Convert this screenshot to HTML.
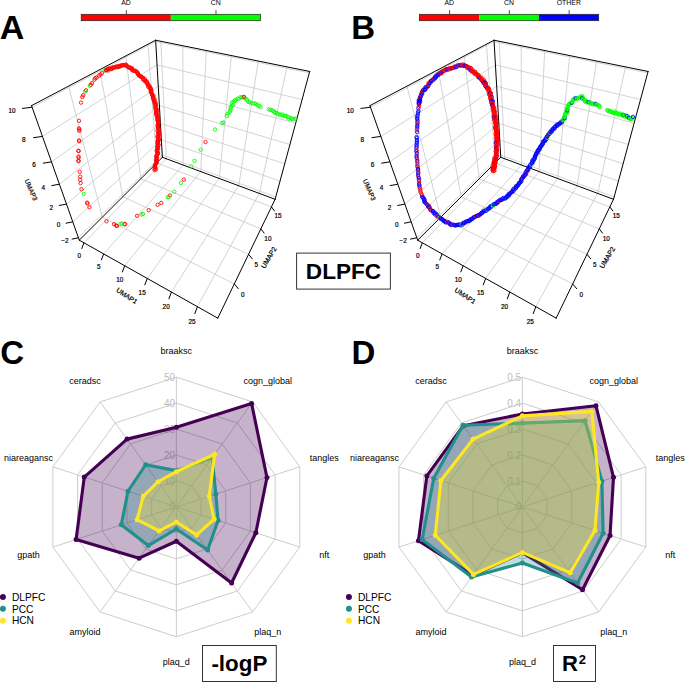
<!DOCTYPE html>
<html><head><meta charset="utf-8"><style>
html,body{margin:0;padding:0;background:#fff;}
svg{display:block;font-family:"Liberation Sans",sans-serif;}
</style></head><body>
<svg width="685" height="682" viewBox="0 0 685 682">
<rect width="685" height="682" fill="#fff"/>
<g font-family="Liberation Sans, sans-serif" fill="#000">
<g>
<line x1="102.28" y1="217.22" x2="68.57" y2="86.12" stroke="#c4c4c4" stroke-width="0.75"/>
<line x1="102.28" y1="217.22" x2="234.29" y2="283.91" stroke="#c4c4c4" stroke-width="0.75"/>
<line x1="122.79" y1="196.76" x2="99.78" y2="69.67" stroke="#c4c4c4" stroke-width="0.75"/>
<line x1="122.79" y1="196.76" x2="248.59" y2="254.27" stroke="#c4c4c4" stroke-width="0.75"/>
<line x1="140.8" y1="178.79" x2="125.88" y2="55.91" stroke="#c4c4c4" stroke-width="0.75"/>
<line x1="140.8" y1="178.79" x2="260.83" y2="228.89" stroke="#c4c4c4" stroke-width="0.75"/>
<line x1="156.74" y1="162.88" x2="148.03" y2="44.23" stroke="#c4c4c4" stroke-width="0.75"/>
<line x1="156.74" y1="162.88" x2="271.43" y2="206.92" stroke="#c4c4c4" stroke-width="0.75"/>
<line x1="78.44" y1="237.79" x2="162.23" y2="154.99" stroke="#c4c4c4" stroke-width="0.75"/>
<line x1="162.23" y1="154.99" x2="275.75" y2="196.92" stroke="#c4c4c4" stroke-width="0.75"/>
<line x1="72.78" y1="221.86" x2="161.35" y2="139.84" stroke="#c4c4c4" stroke-width="0.75"/>
<line x1="161.35" y1="139.84" x2="280.04" y2="181.08" stroke="#c4c4c4" stroke-width="0.75"/>
<line x1="66.48" y1="204.12" x2="160.41" y2="123.43" stroke="#c4c4c4" stroke-width="0.75"/>
<line x1="160.41" y1="123.43" x2="284.74" y2="163.7" stroke="#c4c4c4" stroke-width="0.75"/>
<line x1="59.43" y1="184.26" x2="159.38" y2="105.6" stroke="#c4c4c4" stroke-width="0.75"/>
<line x1="159.38" y1="105.6" x2="289.94" y2="144.51" stroke="#c4c4c4" stroke-width="0.75"/>
<line x1="51.48" y1="161.86" x2="158.27" y2="86.16" stroke="#c4c4c4" stroke-width="0.75"/>
<line x1="158.27" y1="86.16" x2="295.69" y2="123.24" stroke="#c4c4c4" stroke-width="0.75"/>
<line x1="42.45" y1="136.41" x2="157.04" y2="64.87" stroke="#c4c4c4" stroke-width="0.75"/>
<line x1="157.04" y1="64.87" x2="302.11" y2="99.52" stroke="#c4c4c4" stroke-width="0.75"/>
<line x1="32.1" y1="107.24" x2="155.7" y2="41.47" stroke="#c4c4c4" stroke-width="0.75"/>
<line x1="155.7" y1="41.47" x2="309.32" y2="72.9" stroke="#c4c4c4" stroke-width="0.75"/>
<line x1="166.37" y1="158.78" x2="160.84" y2="41.28" stroke="#c4c4c4" stroke-width="0.75"/>
<line x1="83.96" y1="242.8" x2="166.37" y2="158.78" stroke="#c4c4c4" stroke-width="0.75"/>
<line x1="183.14" y1="165.03" x2="182.83" y2="45.74" stroke="#c4c4c4" stroke-width="0.75"/>
<line x1="103.68" y1="253.9" x2="183.14" y2="165.03" stroke="#c4c4c4" stroke-width="0.75"/>
<line x1="200.75" y1="171.59" x2="206.28" y2="50.49" stroke="#c4c4c4" stroke-width="0.75"/>
<line x1="124.74" y1="265.76" x2="200.75" y2="171.59" stroke="#c4c4c4" stroke-width="0.75"/>
<line x1="219.26" y1="178.48" x2="231.36" y2="55.58" stroke="#c4c4c4" stroke-width="0.75"/>
<line x1="147.27" y1="278.44" x2="219.26" y2="178.48" stroke="#c4c4c4" stroke-width="0.75"/>
<line x1="238.75" y1="185.75" x2="258.23" y2="61.03" stroke="#c4c4c4" stroke-width="0.75"/>
<line x1="171.43" y1="292.04" x2="238.75" y2="185.75" stroke="#c4c4c4" stroke-width="0.75"/>
<line x1="259.29" y1="193.4" x2="287.1" y2="66.88" stroke="#c4c4c4" stroke-width="0.75"/>
<line x1="197.42" y1="306.67" x2="259.29" y2="193.4" stroke="#c4c4c4" stroke-width="0.75"/>
<line x1="31.53" y1="105.65" x2="155.62" y2="40.22" stroke="#000" stroke-width="1.0" stroke-linecap="round"/>
<line x1="155.62" y1="40.22" x2="309.71" y2="71.47" stroke="#000" stroke-width="1.0" stroke-linecap="round"/>
<line x1="31.53" y1="105.65" x2="79.28" y2="240.17" stroke="#000" stroke-width="1.0" stroke-linecap="round"/>
<line x1="155.62" y1="40.22" x2="162.36" y2="157.28" stroke="#000" stroke-width="1.0" stroke-linecap="round"/>
<line x1="309.71" y1="71.47" x2="275.11" y2="199.3" stroke="#000" stroke-width="1.0" stroke-linecap="round"/>
<line x1="79.28" y1="240.17" x2="162.36" y2="157.28" stroke="#000" stroke-width="1.0" stroke-linecap="round"/>
<line x1="162.36" y1="157.28" x2="275.11" y2="199.3" stroke="#000" stroke-width="1.0" stroke-linecap="round"/>
<line x1="79.28" y1="240.17" x2="217.78" y2="318.14" stroke="#000" stroke-width="1.0" stroke-linecap="round"/>
<line x1="217.78" y1="318.14" x2="275.11" y2="199.3" stroke="#000" stroke-width="1.0" stroke-linecap="round"/>
<line x1="78.44" y1="237.79" x2="71.68" y2="239.19" stroke="#000" stroke-width="1.0"/>
<text x="64.86" y="240.91" font-size="6.4" text-anchor="middle" dominant-baseline="central" stroke="#000" stroke-width="0.2">&#8722;2</text>
<line x1="72.78" y1="221.86" x2="65.63" y2="223.26" stroke="#000" stroke-width="1.0"/>
<text x="58.42" y="224.98" font-size="6.4" text-anchor="middle" dominant-baseline="central" stroke="#000" stroke-width="0.2">0</text>
<line x1="66.48" y1="204.12" x2="58.9" y2="205.53" stroke="#000" stroke-width="1.0"/>
<text x="51.25" y="207.24" font-size="6.4" text-anchor="middle" dominant-baseline="central" stroke="#000" stroke-width="0.2">2</text>
<line x1="59.43" y1="184.26" x2="51.36" y2="185.65" stroke="#000" stroke-width="1.0"/>
<text x="43.21" y="187.35" font-size="6.4" text-anchor="middle" dominant-baseline="central" stroke="#000" stroke-width="0.2">4</text>
<line x1="51.48" y1="161.86" x2="42.85" y2="163.22" stroke="#000" stroke-width="1.0"/>
<text x="34.13" y="164.9" font-size="6.4" text-anchor="middle" dominant-baseline="central" stroke="#000" stroke-width="0.2">6</text>
<line x1="42.45" y1="136.41" x2="33.18" y2="137.73" stroke="#000" stroke-width="1.0"/>
<text x="23.8" y="139.36" font-size="6.4" text-anchor="middle" dominant-baseline="central" stroke="#000" stroke-width="0.2">8</text>
<line x1="32.1" y1="107.24" x2="22.08" y2="108.48" stroke="#000" stroke-width="1.0"/>
<text x="11.94" y="110.04" font-size="6.4" text-anchor="middle" dominant-baseline="central" stroke="#000" stroke-width="0.2">10</text>
<line x1="83.96" y1="242.8" x2="81.63" y2="248.92" stroke="#000" stroke-width="1.0"/>
<text x="79.29" y="255.34" font-size="6.4" text-anchor="middle" dominant-baseline="central" stroke="#000" stroke-width="0.2">0</text>
<line x1="103.68" y1="253.9" x2="101.28" y2="260.22" stroke="#000" stroke-width="1.0"/>
<text x="98.87" y="266.85" font-size="6.4" text-anchor="middle" dominant-baseline="central" stroke="#000" stroke-width="0.2">5</text>
<line x1="124.74" y1="265.76" x2="122.26" y2="272.29" stroke="#000" stroke-width="1.0"/>
<text x="119.78" y="279.14" font-size="6.4" text-anchor="middle" dominant-baseline="central" stroke="#000" stroke-width="0.2">10</text>
<line x1="147.27" y1="278.44" x2="144.71" y2="285.21" stroke="#000" stroke-width="1.0"/>
<text x="142.16" y="292.29" font-size="6.4" text-anchor="middle" dominant-baseline="central" stroke="#000" stroke-width="0.2">15</text>
<line x1="171.43" y1="292.04" x2="168.8" y2="299.07" stroke="#000" stroke-width="1.0"/>
<text x="166.16" y="306.39" font-size="6.4" text-anchor="middle" dominant-baseline="central" stroke="#000" stroke-width="0.2">20</text>
<line x1="197.42" y1="306.67" x2="194.69" y2="313.96" stroke="#000" stroke-width="1.0"/>
<text x="191.96" y="321.56" font-size="6.4" text-anchor="middle" dominant-baseline="central" stroke="#000" stroke-width="0.2">25</text>
<line x1="234.29" y1="283.91" x2="238.55" y2="288.98" stroke="#000" stroke-width="1.0"/>
<text x="242.76" y="294.31" font-size="6.4" text-anchor="middle" dominant-baseline="central" stroke="#000" stroke-width="0.2">0</text>
<line x1="248.59" y1="254.27" x2="252.46" y2="259.07" stroke="#000" stroke-width="1.0"/>
<text x="256.3" y="264.13" font-size="6.4" text-anchor="middle" dominant-baseline="central" stroke="#000" stroke-width="0.2">5</text>
<line x1="260.83" y1="228.89" x2="264.38" y2="233.44" stroke="#000" stroke-width="1.0"/>
<text x="267.9" y="238.25" font-size="6.4" text-anchor="middle" dominant-baseline="central" stroke="#000" stroke-width="0.2">10</text>
<line x1="271.43" y1="206.92" x2="274.7" y2="211.24" stroke="#000" stroke-width="1.0"/>
<text x="277.95" y="215.83" font-size="6.4" text-anchor="middle" dominant-baseline="central" stroke="#000" stroke-width="0.2">15</text>
<text transform="translate(31.2,189.8) rotate(67)" font-size="6.6" text-anchor="middle" dominant-baseline="central" stroke="#000" stroke-width="0.2">UMAP3</text>
<text transform="translate(126.9,295.7) rotate(34)" font-size="6.9" text-anchor="middle" dominant-baseline="central" stroke="#000" stroke-width="0.2">UMAP1</text>
<text transform="translate(268.7,257.5) rotate(-59)" font-size="6.9" text-anchor="middle" dominant-baseline="central" stroke="#000" stroke-width="0.2">UMAP2</text>
<circle cx="81" cy="102.6" r="1.7" fill="none" stroke="#ff0000" stroke-width="0.85"/>
<circle cx="82.3" cy="97" r="1.7" fill="none" stroke="#ff0000" stroke-width="0.85"/>
<circle cx="83.2" cy="95.2" r="1.7" fill="none" stroke="#ff0000" stroke-width="0.85"/>
<circle cx="85" cy="91.6" r="1.7" fill="none" stroke="#00ff00" stroke-width="0.85"/>
<circle cx="86" cy="90.3" r="1.7" fill="none" stroke="#ff0000" stroke-width="0.85"/>
<circle cx="89.8" cy="85.8" r="1.7" fill="none" stroke="#00ff00" stroke-width="0.85"/>
<circle cx="90.8" cy="84.8" r="1.7" fill="none" stroke="#ff0000" stroke-width="0.85"/>
<circle cx="92" cy="83.2" r="1.7" fill="none" stroke="#ff0000" stroke-width="0.85"/>
<circle cx="94.5" cy="79.6" r="1.7" fill="none" stroke="#ff0000" stroke-width="0.85"/>
<circle cx="95.2" cy="78.2" r="1.7" fill="none" stroke="#ff0000" stroke-width="0.85"/>
<circle cx="96.6" cy="77.5" r="1.7" fill="none" stroke="#ff0000" stroke-width="0.85"/>
<circle cx="99" cy="75.6" r="1.7" fill="none" stroke="#ff0000" stroke-width="0.85"/>
<circle cx="100.5" cy="74.5" r="1.7" fill="none" stroke="#ff0000" stroke-width="0.85"/>
<circle cx="102" cy="73.2" r="1.7" fill="none" stroke="#ff0000" stroke-width="0.85"/>
<circle cx="104.8" cy="70.6" r="1.7" fill="none" stroke="#00ff00" stroke-width="0.85"/>
<circle cx="106" cy="70.2" r="1.7" fill="none" stroke="#ff0000" stroke-width="0.85"/>
<circle cx="106.14" cy="70.25" r="1.7" fill="none" stroke="#ff0000" stroke-width="0.85"/>
<circle cx="106.71" cy="69.64" r="1.7" fill="none" stroke="#ff0000" stroke-width="0.85"/>
<circle cx="108" cy="70.36" r="1.7" fill="none" stroke="#ff0000" stroke-width="0.85"/>
<circle cx="108.07" cy="68.99" r="1.7" fill="none" stroke="#ff0000" stroke-width="0.85"/>
<circle cx="108.97" cy="68.62" r="1.7" fill="none" stroke="#ff0000" stroke-width="0.85"/>
<circle cx="109.77" cy="68.36" r="1.7" fill="none" stroke="#ff0000" stroke-width="0.85"/>
<circle cx="110.74" cy="69.19" r="1.7" fill="none" stroke="#ff0000" stroke-width="0.85"/>
<circle cx="111.76" cy="68.96" r="1.7" fill="none" stroke="#ff0000" stroke-width="0.85"/>
<circle cx="112.15" cy="67.63" r="1.7" fill="none" stroke="#ff0000" stroke-width="0.85"/>
<circle cx="113.01" cy="67.73" r="1.7" fill="none" stroke="#ff0000" stroke-width="0.85"/>
<circle cx="113.98" cy="67.41" r="1.7" fill="none" stroke="#ff0000" stroke-width="0.85"/>
<circle cx="114.57" cy="67.48" r="1.7" fill="none" stroke="#ff0000" stroke-width="0.85"/>
<circle cx="115.78" cy="67.21" r="1.7" fill="none" stroke="#ff0000" stroke-width="0.85"/>
<circle cx="116.13" cy="66.65" r="1.7" fill="none" stroke="#ff0000" stroke-width="0.85"/>
<circle cx="117.38" cy="66.33" r="1.7" fill="none" stroke="#ff0000" stroke-width="0.85"/>
<circle cx="118.24" cy="67.08" r="1.7" fill="none" stroke="#ff0000" stroke-width="0.85"/>
<circle cx="119.14" cy="66.79" r="1.7" fill="none" stroke="#ff0000" stroke-width="0.85"/>
<circle cx="119.34" cy="65.85" r="1.7" fill="none" stroke="#ff0000" stroke-width="0.85"/>
<circle cx="120.51" cy="66.12" r="1.7" fill="none" stroke="#ff0000" stroke-width="0.85"/>
<circle cx="121.04" cy="65.52" r="1.7" fill="none" stroke="#ff0000" stroke-width="0.85"/>
<circle cx="122.01" cy="65.42" r="1.7" fill="none" stroke="#ff0000" stroke-width="0.85"/>
<circle cx="122.67" cy="65.07" r="1.7" fill="none" stroke="#ff0000" stroke-width="0.85"/>
<circle cx="123.88" cy="65.18" r="1.7" fill="none" stroke="#ff0000" stroke-width="0.85"/>
<circle cx="124.39" cy="65.31" r="1.7" fill="none" stroke="#ff0000" stroke-width="0.85"/>
<circle cx="125.47" cy="64.66" r="1.7" fill="none" stroke="#ff0000" stroke-width="0.85"/>
<circle cx="126.14" cy="64.93" r="1.7" fill="none" stroke="#ff0000" stroke-width="0.85"/>
<circle cx="126.54" cy="65.79" r="1.7" fill="none" stroke="#ff0000" stroke-width="0.85"/>
<circle cx="127.43" cy="66.28" r="1.7" fill="none" stroke="#ff0000" stroke-width="0.85"/>
<circle cx="128.16" cy="67.18" r="1.7" fill="none" stroke="#ff0000" stroke-width="0.85"/>
<circle cx="128.88" cy="67.59" r="1.7" fill="none" stroke="#ff0000" stroke-width="0.85"/>
<circle cx="129.88" cy="67.57" r="1.7" fill="none" stroke="#ff0000" stroke-width="0.85"/>
<circle cx="130.59" cy="67.94" r="1.7" fill="none" stroke="#ff0000" stroke-width="0.85"/>
<circle cx="131.27" cy="68.33" r="1.7" fill="none" stroke="#ff0000" stroke-width="0.85"/>
<circle cx="132.13" cy="68.33" r="1.7" fill="none" stroke="#ff0000" stroke-width="0.85"/>
<circle cx="131.98" cy="70.04" r="1.7" fill="none" stroke="#ff0000" stroke-width="0.85"/>
<circle cx="133.11" cy="70.3" r="1.7" fill="none" stroke="#ff0000" stroke-width="0.85"/>
<circle cx="133.64" cy="70.77" r="1.7" fill="none" stroke="#ff0000" stroke-width="0.85"/>
<circle cx="134.21" cy="70.94" r="1.7" fill="none" stroke="#ff0000" stroke-width="0.85"/>
<circle cx="135.46" cy="70.77" r="1.7" fill="none" stroke="#ff0000" stroke-width="0.85"/>
<circle cx="135.97" cy="71.33" r="1.7" fill="none" stroke="#ff0000" stroke-width="0.85"/>
<circle cx="136.85" cy="71.96" r="1.7" fill="none" stroke="#ff0000" stroke-width="0.85"/>
<circle cx="137.62" cy="72.67" r="1.7" fill="none" stroke="#ff0000" stroke-width="0.85"/>
<circle cx="137.55" cy="73.68" r="1.7" fill="none" stroke="#ff0000" stroke-width="0.85"/>
<circle cx="138.03" cy="74.1" r="1.7" fill="none" stroke="#ff0000" stroke-width="0.85"/>
<circle cx="138.64" cy="75.06" r="1.7" fill="none" stroke="#ff0000" stroke-width="0.85"/>
<circle cx="139.31" cy="75.25" r="1.7" fill="none" stroke="#ff0000" stroke-width="0.85"/>
<circle cx="139.88" cy="76.08" r="1.7" fill="none" stroke="#ff0000" stroke-width="0.85"/>
<circle cx="140.76" cy="76.51" r="1.7" fill="none" stroke="#ff0000" stroke-width="0.85"/>
<circle cx="141.15" cy="76.83" r="1.7" fill="none" stroke="#ff0000" stroke-width="0.85"/>
<circle cx="141.76" cy="77.25" r="1.7" fill="none" stroke="#ff0000" stroke-width="0.85"/>
<circle cx="143.01" cy="77.61" r="1.7" fill="none" stroke="#ff0000" stroke-width="0.85"/>
<circle cx="143" cy="79.02" r="1.7" fill="none" stroke="#ff0000" stroke-width="0.85"/>
<circle cx="143.33" cy="79.5" r="1.7" fill="none" stroke="#ff0000" stroke-width="0.85"/>
<circle cx="144.8" cy="79.13" r="1.7" fill="none" stroke="#ff0000" stroke-width="0.85"/>
<circle cx="144.52" cy="80.86" r="1.7" fill="none" stroke="#ff0000" stroke-width="0.85"/>
<circle cx="145.51" cy="80.76" r="1.7" fill="none" stroke="#ff0000" stroke-width="0.85"/>
<circle cx="146.25" cy="81.13" r="1.7" fill="none" stroke="#ff0000" stroke-width="0.85"/>
<circle cx="147.12" cy="82.11" r="1.7" fill="none" stroke="#ff0000" stroke-width="0.85"/>
<circle cx="146.49" cy="82.95" r="1.7" fill="none" stroke="#ff0000" stroke-width="0.85"/>
<circle cx="147.23" cy="83.44" r="1.7" fill="none" stroke="#ff0000" stroke-width="0.85"/>
<circle cx="148.18" cy="84.35" r="1.7" fill="none" stroke="#ff0000" stroke-width="0.85"/>
<circle cx="147.89" cy="85.34" r="1.7" fill="none" stroke="#ff0000" stroke-width="0.85"/>
<circle cx="148.93" cy="85.84" r="1.7" fill="none" stroke="#ff0000" stroke-width="0.85"/>
<circle cx="148.3" cy="87.05" r="1.7" fill="none" stroke="#ff0000" stroke-width="0.85"/>
<circle cx="149.92" cy="86.83" r="1.7" fill="none" stroke="#ff0000" stroke-width="0.85"/>
<circle cx="150.61" cy="88.04" r="1.7" fill="none" stroke="#ff0000" stroke-width="0.85"/>
<circle cx="150.31" cy="89.11" r="1.7" fill="none" stroke="#ff0000" stroke-width="0.85"/>
<circle cx="151.09" cy="89.36" r="1.7" fill="none" stroke="#ff0000" stroke-width="0.85"/>
<circle cx="150.73" cy="90.84" r="1.7" fill="none" stroke="#ff0000" stroke-width="0.85"/>
<circle cx="151.41" cy="90.96" r="1.7" fill="none" stroke="#ff0000" stroke-width="0.85"/>
<circle cx="150.96" cy="92.21" r="1.7" fill="none" stroke="#ff0000" stroke-width="0.85"/>
<circle cx="151.44" cy="92.86" r="1.7" fill="none" stroke="#ff0000" stroke-width="0.85"/>
<circle cx="151.99" cy="94.01" r="1.7" fill="none" stroke="#ff0000" stroke-width="0.85"/>
<circle cx="152.15" cy="94.56" r="1.7" fill="none" stroke="#ff0000" stroke-width="0.85"/>
<circle cx="152.42" cy="95.24" r="1.7" fill="none" stroke="#ff0000" stroke-width="0.85"/>
<circle cx="153.46" cy="95.94" r="1.7" fill="none" stroke="#ff0000" stroke-width="0.85"/>
<circle cx="152.83" cy="96.86" r="1.7" fill="none" stroke="#ff0000" stroke-width="0.85"/>
<circle cx="153.13" cy="98.04" r="1.7" fill="none" stroke="#ff0000" stroke-width="0.85"/>
<circle cx="153.12" cy="98.64" r="1.7" fill="none" stroke="#ff0000" stroke-width="0.85"/>
<circle cx="154.57" cy="99.05" r="1.7" fill="none" stroke="#ff0000" stroke-width="0.85"/>
<circle cx="153.86" cy="100.54" r="1.7" fill="none" stroke="#ff0000" stroke-width="0.85"/>
<circle cx="154.21" cy="101.02" r="1.7" fill="none" stroke="#ff0000" stroke-width="0.85"/>
<circle cx="155.15" cy="101.85" r="1.7" fill="none" stroke="#ff0000" stroke-width="0.85"/>
<circle cx="154.28" cy="102.48" r="1.7" fill="none" stroke="#ff0000" stroke-width="0.85"/>
<circle cx="155.68" cy="103.44" r="1.7" fill="none" stroke="#ff0000" stroke-width="0.85"/>
<circle cx="154.77" cy="104.22" r="1.7" fill="none" stroke="#ff0000" stroke-width="0.85"/>
<circle cx="155.94" cy="104.85" r="1.7" fill="none" stroke="#ff0000" stroke-width="0.85"/>
<circle cx="155.67" cy="105.57" r="1.7" fill="none" stroke="#ff0000" stroke-width="0.85"/>
<circle cx="155.43" cy="106.69" r="1.7" fill="none" stroke="#ff0000" stroke-width="0.85"/>
<circle cx="155.62" cy="107.3" r="1.7" fill="none" stroke="#ff0000" stroke-width="0.85"/>
<circle cx="155.43" cy="108.46" r="1.7" fill="none" stroke="#ff0000" stroke-width="0.85"/>
<circle cx="156.6" cy="109.25" r="1.7" fill="none" stroke="#ff0000" stroke-width="0.85"/>
<circle cx="156.09" cy="110.07" r="1.7" fill="none" stroke="#ff0000" stroke-width="0.85"/>
<circle cx="157.23" cy="110.27" r="1.7" fill="none" stroke="#ff0000" stroke-width="0.85"/>
<circle cx="156.18" cy="111.37" r="1.7" fill="none" stroke="#ff0000" stroke-width="0.85"/>
<circle cx="156.65" cy="112.04" r="1.7" fill="none" stroke="#ff0000" stroke-width="0.85"/>
<circle cx="155.99" cy="113.15" r="1.7" fill="none" stroke="#ff0000" stroke-width="0.85"/>
<circle cx="156.31" cy="113.67" r="1.7" fill="none" stroke="#ff0000" stroke-width="0.85"/>
<circle cx="157" cy="114.4" r="1.7" fill="none" stroke="#ff0000" stroke-width="0.85"/>
<circle cx="156.45" cy="115.52" r="1.7" fill="none" stroke="#ff0000" stroke-width="0.85"/>
<circle cx="157.9" cy="115.93" r="1.7" fill="none" stroke="#ff0000" stroke-width="0.85"/>
<circle cx="157.2" cy="116.84" r="1.7" fill="none" stroke="#ff0000" stroke-width="0.85"/>
<circle cx="157.93" cy="117.78" r="1.7" fill="none" stroke="#ff0000" stroke-width="0.85"/>
<circle cx="157.51" cy="118.74" r="1.7" fill="none" stroke="#ff0000" stroke-width="0.85"/>
<circle cx="157.39" cy="119.44" r="1.7" fill="none" stroke="#ff0000" stroke-width="0.85"/>
<circle cx="157.44" cy="120.11" r="1.7" fill="none" stroke="#ff0000" stroke-width="0.85"/>
<circle cx="158.09" cy="121.27" r="1.7" fill="none" stroke="#ff0000" stroke-width="0.85"/>
<circle cx="158.33" cy="121.72" r="1.7" fill="none" stroke="#ff0000" stroke-width="0.85"/>
<circle cx="158.24" cy="122.69" r="1.7" fill="none" stroke="#ff0000" stroke-width="0.85"/>
<circle cx="158.68" cy="123.2" r="1.7" fill="none" stroke="#ff0000" stroke-width="0.85"/>
<circle cx="157.95" cy="124.13" r="1.7" fill="none" stroke="#ff0000" stroke-width="0.85"/>
<circle cx="157.66" cy="125.34" r="1.7" fill="none" stroke="#ff0000" stroke-width="0.85"/>
<circle cx="157.87" cy="126.07" r="1.7" fill="none" stroke="#ff0000" stroke-width="0.85"/>
<circle cx="158.22" cy="126.47" r="1.7" fill="none" stroke="#ff0000" stroke-width="0.85"/>
<circle cx="158.2" cy="127.48" r="1.7" fill="none" stroke="#ff0000" stroke-width="0.85"/>
<circle cx="157.97" cy="128.16" r="1.7" fill="none" stroke="#ff0000" stroke-width="0.85"/>
<circle cx="158.67" cy="129.33" r="1.7" fill="none" stroke="#ff0000" stroke-width="0.85"/>
<circle cx="158.65" cy="129.9" r="1.7" fill="none" stroke="#ff0000" stroke-width="0.85"/>
<circle cx="157.55" cy="130.7" r="1.7" fill="none" stroke="#ff0000" stroke-width="0.85"/>
<circle cx="158.96" cy="131.68" r="1.7" fill="none" stroke="#ff0000" stroke-width="0.85"/>
<circle cx="158.28" cy="132.46" r="1.7" fill="none" stroke="#ff0000" stroke-width="0.85"/>
<circle cx="159.15" cy="133.18" r="1.7" fill="none" stroke="#ff0000" stroke-width="0.85"/>
<circle cx="159.2" cy="133.89" r="1.7" fill="none" stroke="#ff0000" stroke-width="0.85"/>
<circle cx="157.98" cy="134.54" r="1.7" fill="none" stroke="#ff0000" stroke-width="0.85"/>
<circle cx="158.64" cy="135.93" r="1.7" fill="none" stroke="#ff0000" stroke-width="0.85"/>
<circle cx="157.47" cy="136.4" r="1.7" fill="none" stroke="#ff0000" stroke-width="0.85"/>
<circle cx="157.85" cy="137.3" r="1.7" fill="none" stroke="#ff0000" stroke-width="0.85"/>
<circle cx="158.28" cy="138.26" r="1.7" fill="none" stroke="#ff0000" stroke-width="0.85"/>
<circle cx="158.75" cy="139.06" r="1.7" fill="none" stroke="#ff0000" stroke-width="0.85"/>
<circle cx="158.95" cy="139.9" r="1.7" fill="none" stroke="#ff0000" stroke-width="0.85"/>
<circle cx="157.85" cy="140.42" r="1.7" fill="none" stroke="#ff0000" stroke-width="0.85"/>
<circle cx="157.83" cy="141.24" r="1.7" fill="none" stroke="#ff0000" stroke-width="0.85"/>
<circle cx="157.63" cy="141.83" r="1.7" fill="none" stroke="#ff0000" stroke-width="0.85"/>
<circle cx="158.05" cy="143.1" r="1.7" fill="none" stroke="#ff0000" stroke-width="0.85"/>
<circle cx="157.33" cy="143.5" r="1.7" fill="none" stroke="#ff0000" stroke-width="0.85"/>
<circle cx="158.44" cy="144.75" r="1.7" fill="none" stroke="#ff0000" stroke-width="0.85"/>
<circle cx="158.29" cy="145.06" r="1.7" fill="none" stroke="#ff0000" stroke-width="0.85"/>
<circle cx="157.57" cy="146.02" r="1.7" fill="none" stroke="#ff0000" stroke-width="0.85"/>
<circle cx="157.45" cy="146.86" r="1.7" fill="none" stroke="#ff0000" stroke-width="0.85"/>
<circle cx="157.78" cy="147.67" r="1.7" fill="none" stroke="#ff0000" stroke-width="0.85"/>
<circle cx="158.03" cy="148.8" r="1.7" fill="none" stroke="#ff0000" stroke-width="0.85"/>
<circle cx="157.32" cy="149.48" r="1.7" fill="none" stroke="#ff0000" stroke-width="0.85"/>
<circle cx="156.89" cy="149.93" r="1.7" fill="none" stroke="#ff0000" stroke-width="0.85"/>
<circle cx="156.74" cy="151.09" r="1.7" fill="none" stroke="#ff0000" stroke-width="0.85"/>
<circle cx="157.39" cy="151.79" r="1.7" fill="none" stroke="#ff0000" stroke-width="0.85"/>
<circle cx="157.96" cy="152.77" r="1.7" fill="none" stroke="#ff0000" stroke-width="0.85"/>
<circle cx="157.8" cy="153.43" r="1.7" fill="none" stroke="#ff0000" stroke-width="0.85"/>
<circle cx="157.83" cy="153.97" r="1.7" fill="none" stroke="#ff0000" stroke-width="0.85"/>
<circle cx="156.92" cy="154.95" r="1.7" fill="none" stroke="#ff0000" stroke-width="0.85"/>
<circle cx="156.71" cy="155.93" r="1.7" fill="none" stroke="#ff0000" stroke-width="0.85"/>
<circle cx="156.16" cy="156.26" r="1.7" fill="none" stroke="#ff0000" stroke-width="0.85"/>
<circle cx="156.65" cy="157.42" r="1.7" fill="none" stroke="#ff0000" stroke-width="0.85"/>
<circle cx="156.54" cy="158.18" r="1.7" fill="none" stroke="#ff0000" stroke-width="0.85"/>
<circle cx="156.52" cy="159.25" r="1.7" fill="none" stroke="#ff0000" stroke-width="0.85"/>
<circle cx="156.58" cy="159.93" r="1.7" fill="none" stroke="#ff0000" stroke-width="0.85"/>
<circle cx="156.07" cy="160.45" r="1.7" fill="none" stroke="#ff0000" stroke-width="0.85"/>
<circle cx="156.36" cy="161.39" r="1.7" fill="none" stroke="#ff0000" stroke-width="0.85"/>
<circle cx="156.71" cy="162.26" r="1.7" fill="none" stroke="#ff0000" stroke-width="0.85"/>
<circle cx="156.42" cy="163.22" r="1.7" fill="none" stroke="#ff0000" stroke-width="0.85"/>
<circle cx="155.72" cy="164.19" r="1.7" fill="none" stroke="#ff0000" stroke-width="0.85"/>
<circle cx="155.05" cy="164.97" r="1.7" fill="none" stroke="#ff0000" stroke-width="0.85"/>
<circle cx="154.9" cy="165.81" r="1.7" fill="none" stroke="#ff0000" stroke-width="0.85"/>
<circle cx="155.1" cy="166.81" r="1.7" fill="none" stroke="#ff0000" stroke-width="0.85"/>
<circle cx="155.27" cy="167.55" r="1.7" fill="none" stroke="#ff0000" stroke-width="0.85"/>
<circle cx="154.68" cy="168.73" r="1.7" fill="none" stroke="#ff0000" stroke-width="0.85"/>
<circle cx="155.99" cy="169.55" r="1.7" fill="none" stroke="#ff0000" stroke-width="0.85"/>
<circle cx="154.51" cy="170.09" r="1.7" fill="none" stroke="#ff0000" stroke-width="0.85"/>
<circle cx="79" cy="120.8" r="1.7" fill="none" stroke="#ff0000" stroke-width="0.85"/>
<circle cx="79" cy="128.4" r="1.7" fill="none" stroke="#ff0000" stroke-width="0.85"/>
<circle cx="79.4" cy="130.8" r="1.7" fill="none" stroke="#ff0000" stroke-width="0.85"/>
<circle cx="79.2" cy="129.5" r="1.7" fill="none" stroke="#ff0000" stroke-width="0.85"/>
<circle cx="79" cy="140.5" r="1.7" fill="none" stroke="#ff0000" stroke-width="0.85"/>
<circle cx="79.2" cy="141.2" r="1.7" fill="none" stroke="#ff0000" stroke-width="0.85"/>
<circle cx="78.5" cy="151" r="1.7" fill="none" stroke="#ff0000" stroke-width="0.85"/>
<circle cx="78.5" cy="150.8" r="1.7" fill="none" stroke="#ff0000" stroke-width="0.85"/>
<circle cx="78.5" cy="156.5" r="1.7" fill="none" stroke="#ff0000" stroke-width="0.85"/>
<circle cx="78.6" cy="157.6" r="1.7" fill="none" stroke="#ff0000" stroke-width="0.85"/>
<circle cx="78.5" cy="160.6" r="1.7" fill="none" stroke="#ff0000" stroke-width="0.85"/>
<circle cx="78.5" cy="161.3" r="1.7" fill="none" stroke="#ff0000" stroke-width="0.85"/>
<circle cx="79.7" cy="171.8" r="1.7" fill="none" stroke="#ff0000" stroke-width="0.85"/>
<circle cx="80.2" cy="176.6" r="1.7" fill="none" stroke="#ff0000" stroke-width="0.85"/>
<circle cx="80.2" cy="179.8" r="1.7" fill="none" stroke="#ff0000" stroke-width="0.85"/>
<circle cx="80.6" cy="183.1" r="1.7" fill="none" stroke="#ff0000" stroke-width="0.85"/>
<circle cx="81.5" cy="189.2" r="1.7" fill="none" stroke="#ff0000" stroke-width="0.85"/>
<circle cx="87.1" cy="202.7" r="1.7" fill="none" stroke="#ff0000" stroke-width="0.85"/>
<circle cx="87.5" cy="203.5" r="1.7" fill="none" stroke="#ff0000" stroke-width="0.85"/>
<circle cx="89.4" cy="207.3" r="1.7" fill="none" stroke="#ff0000" stroke-width="0.85"/>
<circle cx="106.5" cy="221.3" r="1.7" fill="none" stroke="#ff0000" stroke-width="0.85"/>
<circle cx="114" cy="224.2" r="1.7" fill="none" stroke="#ff0000" stroke-width="0.85"/>
<circle cx="116.1" cy="225.5" r="1.7" fill="none" stroke="#ff0000" stroke-width="0.85"/>
<circle cx="117" cy="226" r="1.7" fill="none" stroke="#ff0000" stroke-width="0.85"/>
<circle cx="124.5" cy="223.9" r="1.7" fill="none" stroke="#ff0000" stroke-width="0.85"/>
<circle cx="125.2" cy="224.3" r="1.7" fill="none" stroke="#ff0000" stroke-width="0.85"/>
<circle cx="137.1" cy="215.8" r="1.7" fill="none" stroke="#ff0000" stroke-width="0.85"/>
<circle cx="148.7" cy="210.2" r="1.7" fill="none" stroke="#ff0000" stroke-width="0.85"/>
<circle cx="157.6" cy="204.8" r="1.7" fill="none" stroke="#ff0000" stroke-width="0.85"/>
<circle cx="161.3" cy="202.9" r="1.7" fill="none" stroke="#ff0000" stroke-width="0.85"/>
<circle cx="169.9" cy="195.5" r="1.7" fill="none" stroke="#ff0000" stroke-width="0.85"/>
<circle cx="183.8" cy="179.6" r="1.7" fill="none" stroke="#ff0000" stroke-width="0.85"/>
<circle cx="205.5" cy="142" r="1.7" fill="none" stroke="#ff0000" stroke-width="0.85"/>
<circle cx="83.7" cy="193.9" r="1.7" fill="none" stroke="#00ff00" stroke-width="0.85"/>
<circle cx="120.5" cy="223.9" r="1.7" fill="none" stroke="#00ff00" stroke-width="0.85"/>
<circle cx="122" cy="223.5" r="1.7" fill="none" stroke="#00ff00" stroke-width="0.85"/>
<circle cx="141.5" cy="214.5" r="1.7" fill="none" stroke="#00ff00" stroke-width="0.85"/>
<circle cx="143" cy="214" r="1.7" fill="none" stroke="#00ff00" stroke-width="0.85"/>
<circle cx="168" cy="197.3" r="1.7" fill="none" stroke="#00ff00" stroke-width="0.85"/>
<circle cx="168.4" cy="197" r="1.7" fill="none" stroke="#00ff00" stroke-width="0.85"/>
<circle cx="174.3" cy="191.7" r="1.7" fill="none" stroke="#00ff00" stroke-width="0.85"/>
<circle cx="180.9" cy="182.9" r="1.7" fill="none" stroke="#00ff00" stroke-width="0.85"/>
<circle cx="191.4" cy="166.4" r="1.7" fill="none" stroke="#00ff00" stroke-width="0.85"/>
<circle cx="194.5" cy="160.9" r="1.7" fill="none" stroke="#00ff00" stroke-width="0.85"/>
<circle cx="200.7" cy="149.7" r="1.7" fill="none" stroke="#00ff00" stroke-width="0.85"/>
<circle cx="215" cy="129.5" r="1.7" fill="none" stroke="#00ff00" stroke-width="0.85"/>
<circle cx="222.2" cy="123.1" r="1.7" fill="none" stroke="#00ff00" stroke-width="0.85"/>
<circle cx="223.5" cy="122.5" r="1.7" fill="none" stroke="#00ff00" stroke-width="0.85"/>
<circle cx="226.9" cy="116.02" r="1.7" fill="none" stroke="#00ff00" stroke-width="0.85"/>
<circle cx="227.64" cy="113.9" r="1.7" fill="none" stroke="#00ff00" stroke-width="0.85"/>
<circle cx="229.46" cy="112.42" r="1.7" fill="none" stroke="#00ff00" stroke-width="0.85"/>
<circle cx="230.21" cy="110.62" r="1.7" fill="none" stroke="#00ff00" stroke-width="0.85"/>
<circle cx="230.56" cy="109.03" r="1.7" fill="none" stroke="#00ff00" stroke-width="0.85"/>
<circle cx="230.81" cy="107.29" r="1.7" fill="none" stroke="#00ff00" stroke-width="0.85"/>
<circle cx="231.81" cy="105.72" r="1.7" fill="none" stroke="#00ff00" stroke-width="0.85"/>
<circle cx="232.87" cy="104.95" r="1.7" fill="none" stroke="#00ff00" stroke-width="0.85"/>
<circle cx="231.92" cy="102.74" r="1.7" fill="none" stroke="#00ff00" stroke-width="0.85"/>
<circle cx="233.45" cy="101.56" r="1.7" fill="none" stroke="#00ff00" stroke-width="0.85"/>
<circle cx="234.86" cy="100.93" r="1.7" fill="none" stroke="#00ff00" stroke-width="0.85"/>
<circle cx="235.61" cy="99.88" r="1.7" fill="none" stroke="#00ff00" stroke-width="0.85"/>
<circle cx="237.56" cy="98.78" r="1.7" fill="none" stroke="#00ff00" stroke-width="0.85"/>
<circle cx="239.1" cy="98.77" r="1.7" fill="none" stroke="#00ff00" stroke-width="0.85"/>
<circle cx="240.49" cy="97.09" r="1.7" fill="none" stroke="#00ff00" stroke-width="0.85"/>
<circle cx="242.01" cy="97.27" r="1.7" fill="none" stroke="#00ff00" stroke-width="0.85"/>
<circle cx="243.89" cy="96.81" r="1.7" fill="none" stroke="#00ff00" stroke-width="0.85"/>
<circle cx="244.84" cy="98.22" r="1.7" fill="none" stroke="#00ff00" stroke-width="0.85"/>
<circle cx="246.43" cy="99.23" r="1.7" fill="none" stroke="#00ff00" stroke-width="0.85"/>
<circle cx="247.2" cy="100.46" r="1.7" fill="none" stroke="#00ff00" stroke-width="0.85"/>
<circle cx="248.29" cy="101.85" r="1.7" fill="none" stroke="#00ff00" stroke-width="0.85"/>
<circle cx="249.69" cy="102" r="1.7" fill="none" stroke="#00ff00" stroke-width="0.85"/>
<circle cx="250.77" cy="103.41" r="1.7" fill="none" stroke="#00ff00" stroke-width="0.85"/>
<circle cx="252.72" cy="103.28" r="1.7" fill="none" stroke="#00ff00" stroke-width="0.85"/>
<circle cx="254.57" cy="103.33" r="1.7" fill="none" stroke="#00ff00" stroke-width="0.85"/>
<circle cx="256.04" cy="103.99" r="1.7" fill="none" stroke="#00ff00" stroke-width="0.85"/>
<circle cx="257.45" cy="105.22" r="1.7" fill="none" stroke="#00ff00" stroke-width="0.85"/>
<circle cx="259.13" cy="105.83" r="1.7" fill="none" stroke="#00ff00" stroke-width="0.85"/>
<circle cx="260.58" cy="107.16" r="1.7" fill="none" stroke="#00ff00" stroke-width="0.85"/>
<circle cx="268.79" cy="109.36" r="1.7" fill="none" stroke="#00ff00" stroke-width="0.85"/>
<circle cx="270.36" cy="109.86" r="1.7" fill="none" stroke="#00ff00" stroke-width="0.85"/>
<circle cx="271.71" cy="110.32" r="1.7" fill="none" stroke="#00ff00" stroke-width="0.85"/>
<circle cx="273.02" cy="110.77" r="1.7" fill="none" stroke="#00ff00" stroke-width="0.85"/>
<circle cx="274.14" cy="111.92" r="1.7" fill="none" stroke="#00ff00" stroke-width="0.85"/>
<circle cx="275.27" cy="112.88" r="1.7" fill="none" stroke="#00ff00" stroke-width="0.85"/>
<circle cx="276.62" cy="112.86" r="1.7" fill="none" stroke="#00ff00" stroke-width="0.85"/>
<circle cx="277.7" cy="114.04" r="1.7" fill="none" stroke="#00ff00" stroke-width="0.85"/>
<circle cx="279.51" cy="114.35" r="1.7" fill="none" stroke="#00ff00" stroke-width="0.85"/>
<circle cx="280.53" cy="115.01" r="1.7" fill="none" stroke="#00ff00" stroke-width="0.85"/>
<circle cx="282.32" cy="114.42" r="1.7" fill="none" stroke="#00ff00" stroke-width="0.85"/>
<circle cx="283.34" cy="115.68" r="1.7" fill="none" stroke="#00ff00" stroke-width="0.85"/>
<circle cx="284.95" cy="115.78" r="1.7" fill="none" stroke="#00ff00" stroke-width="0.85"/>
<circle cx="286.44" cy="115.99" r="1.7" fill="none" stroke="#00ff00" stroke-width="0.85"/>
<circle cx="287.93" cy="116.85" r="1.7" fill="none" stroke="#00ff00" stroke-width="0.85"/>
<circle cx="288.45" cy="118.64" r="1.7" fill="none" stroke="#00ff00" stroke-width="0.85"/>
<circle cx="290.75" cy="117.77" r="1.7" fill="none" stroke="#00ff00" stroke-width="0.85"/>
<circle cx="291.75" cy="118.81" r="1.7" fill="none" stroke="#00ff00" stroke-width="0.85"/>
<circle cx="292.41" cy="119.04" r="1.7" fill="none" stroke="#00ff00" stroke-width="0.85"/>
<circle cx="294.38" cy="119.13" r="1.7" fill="none" stroke="#00ff00" stroke-width="0.85"/>
<circle cx="295.85" cy="118.52" r="1.7" fill="none" stroke="#00ff00" stroke-width="0.85"/>
<circle cx="243.8" cy="97" r="1.7" fill="none" stroke="#ff0000" stroke-width="0.85"/>
</g>
<g>
<line x1="440.68" y1="217.22" x2="406.97" y2="86.12" stroke="#c4c4c4" stroke-width="0.75"/>
<line x1="440.68" y1="217.22" x2="572.69" y2="283.91" stroke="#c4c4c4" stroke-width="0.75"/>
<line x1="461.19" y1="196.76" x2="438.18" y2="69.67" stroke="#c4c4c4" stroke-width="0.75"/>
<line x1="461.19" y1="196.76" x2="586.99" y2="254.27" stroke="#c4c4c4" stroke-width="0.75"/>
<line x1="479.2" y1="178.79" x2="464.28" y2="55.91" stroke="#c4c4c4" stroke-width="0.75"/>
<line x1="479.2" y1="178.79" x2="599.23" y2="228.89" stroke="#c4c4c4" stroke-width="0.75"/>
<line x1="495.14" y1="162.88" x2="486.43" y2="44.23" stroke="#c4c4c4" stroke-width="0.75"/>
<line x1="495.14" y1="162.88" x2="609.83" y2="206.92" stroke="#c4c4c4" stroke-width="0.75"/>
<line x1="416.84" y1="237.79" x2="500.63" y2="154.99" stroke="#c4c4c4" stroke-width="0.75"/>
<line x1="500.63" y1="154.99" x2="614.15" y2="196.92" stroke="#c4c4c4" stroke-width="0.75"/>
<line x1="411.18" y1="221.86" x2="499.75" y2="139.84" stroke="#c4c4c4" stroke-width="0.75"/>
<line x1="499.75" y1="139.84" x2="618.44" y2="181.08" stroke="#c4c4c4" stroke-width="0.75"/>
<line x1="404.88" y1="204.12" x2="498.81" y2="123.43" stroke="#c4c4c4" stroke-width="0.75"/>
<line x1="498.81" y1="123.43" x2="623.14" y2="163.7" stroke="#c4c4c4" stroke-width="0.75"/>
<line x1="397.83" y1="184.26" x2="497.78" y2="105.6" stroke="#c4c4c4" stroke-width="0.75"/>
<line x1="497.78" y1="105.6" x2="628.34" y2="144.51" stroke="#c4c4c4" stroke-width="0.75"/>
<line x1="389.88" y1="161.86" x2="496.67" y2="86.16" stroke="#c4c4c4" stroke-width="0.75"/>
<line x1="496.67" y1="86.16" x2="634.09" y2="123.24" stroke="#c4c4c4" stroke-width="0.75"/>
<line x1="380.85" y1="136.41" x2="495.44" y2="64.87" stroke="#c4c4c4" stroke-width="0.75"/>
<line x1="495.44" y1="64.87" x2="640.51" y2="99.52" stroke="#c4c4c4" stroke-width="0.75"/>
<line x1="370.5" y1="107.24" x2="494.1" y2="41.47" stroke="#c4c4c4" stroke-width="0.75"/>
<line x1="494.1" y1="41.47" x2="647.72" y2="72.9" stroke="#c4c4c4" stroke-width="0.75"/>
<line x1="504.77" y1="158.78" x2="499.24" y2="41.28" stroke="#c4c4c4" stroke-width="0.75"/>
<line x1="422.36" y1="242.8" x2="504.77" y2="158.78" stroke="#c4c4c4" stroke-width="0.75"/>
<line x1="521.54" y1="165.03" x2="521.23" y2="45.74" stroke="#c4c4c4" stroke-width="0.75"/>
<line x1="442.08" y1="253.9" x2="521.54" y2="165.03" stroke="#c4c4c4" stroke-width="0.75"/>
<line x1="539.15" y1="171.59" x2="544.68" y2="50.49" stroke="#c4c4c4" stroke-width="0.75"/>
<line x1="463.14" y1="265.76" x2="539.15" y2="171.59" stroke="#c4c4c4" stroke-width="0.75"/>
<line x1="557.66" y1="178.48" x2="569.76" y2="55.58" stroke="#c4c4c4" stroke-width="0.75"/>
<line x1="485.67" y1="278.44" x2="557.66" y2="178.48" stroke="#c4c4c4" stroke-width="0.75"/>
<line x1="577.15" y1="185.75" x2="596.63" y2="61.03" stroke="#c4c4c4" stroke-width="0.75"/>
<line x1="509.83" y1="292.04" x2="577.15" y2="185.75" stroke="#c4c4c4" stroke-width="0.75"/>
<line x1="597.69" y1="193.4" x2="625.5" y2="66.88" stroke="#c4c4c4" stroke-width="0.75"/>
<line x1="535.82" y1="306.67" x2="597.69" y2="193.4" stroke="#c4c4c4" stroke-width="0.75"/>
<line x1="369.93" y1="105.65" x2="494.02" y2="40.22" stroke="#000" stroke-width="1.0" stroke-linecap="round"/>
<line x1="494.02" y1="40.22" x2="648.11" y2="71.47" stroke="#000" stroke-width="1.0" stroke-linecap="round"/>
<line x1="369.93" y1="105.65" x2="417.68" y2="240.17" stroke="#000" stroke-width="1.0" stroke-linecap="round"/>
<line x1="494.02" y1="40.22" x2="500.76" y2="157.28" stroke="#000" stroke-width="1.0" stroke-linecap="round"/>
<line x1="648.11" y1="71.47" x2="613.51" y2="199.3" stroke="#000" stroke-width="1.0" stroke-linecap="round"/>
<line x1="417.68" y1="240.17" x2="500.76" y2="157.28" stroke="#000" stroke-width="1.0" stroke-linecap="round"/>
<line x1="500.76" y1="157.28" x2="613.51" y2="199.3" stroke="#000" stroke-width="1.0" stroke-linecap="round"/>
<line x1="417.68" y1="240.17" x2="556.18" y2="318.14" stroke="#000" stroke-width="1.0" stroke-linecap="round"/>
<line x1="556.18" y1="318.14" x2="613.51" y2="199.3" stroke="#000" stroke-width="1.0" stroke-linecap="round"/>
<line x1="416.84" y1="237.79" x2="410.08" y2="239.19" stroke="#000" stroke-width="1.0"/>
<text x="403.26" y="240.91" font-size="6.4" text-anchor="middle" dominant-baseline="central" stroke="#000" stroke-width="0.2">&#8722;2</text>
<line x1="411.18" y1="221.86" x2="404.03" y2="223.26" stroke="#000" stroke-width="1.0"/>
<text x="396.82" y="224.98" font-size="6.4" text-anchor="middle" dominant-baseline="central" stroke="#000" stroke-width="0.2">0</text>
<line x1="404.88" y1="204.12" x2="397.3" y2="205.53" stroke="#000" stroke-width="1.0"/>
<text x="389.65" y="207.24" font-size="6.4" text-anchor="middle" dominant-baseline="central" stroke="#000" stroke-width="0.2">2</text>
<line x1="397.83" y1="184.26" x2="389.76" y2="185.65" stroke="#000" stroke-width="1.0"/>
<text x="381.61" y="187.35" font-size="6.4" text-anchor="middle" dominant-baseline="central" stroke="#000" stroke-width="0.2">4</text>
<line x1="389.88" y1="161.86" x2="381.25" y2="163.22" stroke="#000" stroke-width="1.0"/>
<text x="372.53" y="164.9" font-size="6.4" text-anchor="middle" dominant-baseline="central" stroke="#000" stroke-width="0.2">6</text>
<line x1="380.85" y1="136.41" x2="371.58" y2="137.73" stroke="#000" stroke-width="1.0"/>
<text x="362.2" y="139.36" font-size="6.4" text-anchor="middle" dominant-baseline="central" stroke="#000" stroke-width="0.2">8</text>
<line x1="370.5" y1="107.24" x2="360.48" y2="108.48" stroke="#000" stroke-width="1.0"/>
<text x="350.34" y="110.04" font-size="6.4" text-anchor="middle" dominant-baseline="central" stroke="#000" stroke-width="0.2">10</text>
<line x1="422.36" y1="242.8" x2="420.03" y2="248.92" stroke="#000" stroke-width="1.0"/>
<text x="417.69" y="255.34" font-size="6.4" text-anchor="middle" dominant-baseline="central" stroke="#000" stroke-width="0.2">0</text>
<line x1="442.08" y1="253.9" x2="439.68" y2="260.22" stroke="#000" stroke-width="1.0"/>
<text x="437.27" y="266.85" font-size="6.4" text-anchor="middle" dominant-baseline="central" stroke="#000" stroke-width="0.2">5</text>
<line x1="463.14" y1="265.76" x2="460.66" y2="272.29" stroke="#000" stroke-width="1.0"/>
<text x="458.18" y="279.14" font-size="6.4" text-anchor="middle" dominant-baseline="central" stroke="#000" stroke-width="0.2">10</text>
<line x1="485.67" y1="278.44" x2="483.11" y2="285.21" stroke="#000" stroke-width="1.0"/>
<text x="480.56" y="292.29" font-size="6.4" text-anchor="middle" dominant-baseline="central" stroke="#000" stroke-width="0.2">15</text>
<line x1="509.83" y1="292.04" x2="507.2" y2="299.07" stroke="#000" stroke-width="1.0"/>
<text x="504.56" y="306.39" font-size="6.4" text-anchor="middle" dominant-baseline="central" stroke="#000" stroke-width="0.2">20</text>
<line x1="535.82" y1="306.67" x2="533.09" y2="313.96" stroke="#000" stroke-width="1.0"/>
<text x="530.36" y="321.56" font-size="6.4" text-anchor="middle" dominant-baseline="central" stroke="#000" stroke-width="0.2">25</text>
<line x1="572.69" y1="283.91" x2="576.95" y2="288.98" stroke="#000" stroke-width="1.0"/>
<text x="581.16" y="294.31" font-size="6.4" text-anchor="middle" dominant-baseline="central" stroke="#000" stroke-width="0.2">0</text>
<line x1="586.99" y1="254.27" x2="590.86" y2="259.07" stroke="#000" stroke-width="1.0"/>
<text x="594.7" y="264.13" font-size="6.4" text-anchor="middle" dominant-baseline="central" stroke="#000" stroke-width="0.2">5</text>
<line x1="599.23" y1="228.89" x2="602.78" y2="233.44" stroke="#000" stroke-width="1.0"/>
<text x="606.3" y="238.25" font-size="6.4" text-anchor="middle" dominant-baseline="central" stroke="#000" stroke-width="0.2">10</text>
<line x1="609.83" y1="206.92" x2="613.1" y2="211.24" stroke="#000" stroke-width="1.0"/>
<text x="616.35" y="215.83" font-size="6.4" text-anchor="middle" dominant-baseline="central" stroke="#000" stroke-width="0.2">15</text>
<text transform="translate(369.6,189.8) rotate(67)" font-size="6.6" text-anchor="middle" dominant-baseline="central" stroke="#000" stroke-width="0.2">UMAP3</text>
<text transform="translate(465.3,295.7) rotate(34)" font-size="6.9" text-anchor="middle" dominant-baseline="central" stroke="#000" stroke-width="0.2">UMAP1</text>
<text transform="translate(607.1,257.5) rotate(-59)" font-size="6.9" text-anchor="middle" dominant-baseline="central" stroke="#000" stroke-width="0.2">UMAP2</text>
<circle cx="418.69" cy="103.89" r="1.7" fill="none" stroke="#0000ff" stroke-width="0.85"/>
<circle cx="419.04" cy="103.26" r="1.7" fill="none" stroke="#0000ff" stroke-width="0.85"/>
<circle cx="419.34" cy="102.63" r="1.7" fill="none" stroke="#0000ff" stroke-width="0.85"/>
<circle cx="420.09" cy="101.46" r="1.7" fill="none" stroke="#0000ff" stroke-width="0.85"/>
<circle cx="418.73" cy="100.45" r="1.7" fill="none" stroke="#0000ff" stroke-width="0.85"/>
<circle cx="419.96" cy="100.06" r="1.7" fill="none" stroke="#0000ff" stroke-width="0.85"/>
<circle cx="420.09" cy="99.44" r="1.7" fill="none" stroke="#0000ff" stroke-width="0.85"/>
<circle cx="419.83" cy="98.58" r="1.7" fill="none" stroke="#0000ff" stroke-width="0.85"/>
<circle cx="419.81" cy="97.72" r="1.7" fill="none" stroke="#ff0000" stroke-width="0.85"/>
<circle cx="420.69" cy="97" r="1.7" fill="none" stroke="#0000ff" stroke-width="0.85"/>
<circle cx="420.59" cy="96.36" r="1.7" fill="none" stroke="#0000ff" stroke-width="0.85"/>
<circle cx="421.13" cy="95.42" r="1.7" fill="none" stroke="#0000ff" stroke-width="0.85"/>
<circle cx="421.06" cy="94.28" r="1.7" fill="none" stroke="#ff0000" stroke-width="0.85"/>
<circle cx="422.2" cy="93.82" r="1.7" fill="none" stroke="#0000ff" stroke-width="0.85"/>
<circle cx="421.78" cy="92.92" r="1.7" fill="none" stroke="#0000ff" stroke-width="0.85"/>
<circle cx="422.01" cy="91.94" r="1.7" fill="none" stroke="#ff0000" stroke-width="0.85"/>
<circle cx="422.69" cy="91.49" r="1.7" fill="none" stroke="#0000ff" stroke-width="0.85"/>
<circle cx="422.9" cy="90.6" r="1.7" fill="none" stroke="#ff0000" stroke-width="0.85"/>
<circle cx="423.28" cy="89.71" r="1.7" fill="none" stroke="#0000ff" stroke-width="0.85"/>
<circle cx="424.92" cy="89.93" r="1.7" fill="none" stroke="#0000ff" stroke-width="0.85"/>
<circle cx="425.41" cy="89.24" r="1.7" fill="none" stroke="#0000ff" stroke-width="0.85"/>
<circle cx="425.48" cy="88.6" r="1.7" fill="none" stroke="#0000ff" stroke-width="0.85"/>
<circle cx="425.48" cy="87.2" r="1.7" fill="none" stroke="#0000ff" stroke-width="0.85"/>
<circle cx="426.48" cy="87.1" r="1.7" fill="none" stroke="#0000ff" stroke-width="0.85"/>
<circle cx="427.53" cy="86.69" r="1.7" fill="none" stroke="#ff0000" stroke-width="0.85"/>
<circle cx="427.78" cy="86.31" r="1.7" fill="none" stroke="#0000ff" stroke-width="0.85"/>
<circle cx="428.37" cy="85.65" r="1.7" fill="none" stroke="#0000ff" stroke-width="0.85"/>
<circle cx="428.65" cy="84.82" r="1.7" fill="none" stroke="#ff0000" stroke-width="0.85"/>
<circle cx="428.36" cy="83.56" r="1.7" fill="none" stroke="#ff0000" stroke-width="0.85"/>
<circle cx="429.38" cy="82.89" r="1.7" fill="none" stroke="#0000ff" stroke-width="0.85"/>
<circle cx="430.44" cy="82.79" r="1.7" fill="none" stroke="#0000ff" stroke-width="0.85"/>
<circle cx="430.15" cy="81.6" r="1.7" fill="none" stroke="#ff0000" stroke-width="0.85"/>
<circle cx="431.19" cy="81.19" r="1.7" fill="none" stroke="#0000ff" stroke-width="0.85"/>
<circle cx="431.24" cy="80.64" r="1.7" fill="none" stroke="#0000ff" stroke-width="0.85"/>
<circle cx="432.78" cy="80.32" r="1.7" fill="none" stroke="#0000ff" stroke-width="0.85"/>
<circle cx="433.22" cy="80" r="1.7" fill="none" stroke="#ff0000" stroke-width="0.85"/>
<circle cx="433.31" cy="78.77" r="1.7" fill="none" stroke="#0000ff" stroke-width="0.85"/>
<circle cx="434.13" cy="78.59" r="1.7" fill="none" stroke="#ff0000" stroke-width="0.85"/>
<circle cx="434.98" cy="78.47" r="1.7" fill="none" stroke="#0000ff" stroke-width="0.85"/>
<circle cx="435.15" cy="76.59" r="1.7" fill="none" stroke="#0000ff" stroke-width="0.85"/>
<circle cx="436.08" cy="77.24" r="1.7" fill="none" stroke="#0000ff" stroke-width="0.85"/>
<circle cx="436.5" cy="75.72" r="1.7" fill="none" stroke="#0000ff" stroke-width="0.85"/>
<circle cx="437.4" cy="75.41" r="1.7" fill="none" stroke="#0000ff" stroke-width="0.85"/>
<circle cx="437.63" cy="74.44" r="1.7" fill="none" stroke="#0000ff" stroke-width="0.85"/>
<circle cx="438.7" cy="74.66" r="1.7" fill="none" stroke="#0000ff" stroke-width="0.85"/>
<circle cx="439.34" cy="73.49" r="1.7" fill="none" stroke="#0000ff" stroke-width="0.85"/>
<circle cx="439.93" cy="72.91" r="1.7" fill="none" stroke="#ff0000" stroke-width="0.85"/>
<circle cx="441.08" cy="73.39" r="1.7" fill="none" stroke="#0000ff" stroke-width="0.85"/>
<circle cx="441.67" cy="73.01" r="1.7" fill="none" stroke="#ff0000" stroke-width="0.85"/>
<circle cx="441.69" cy="71.98" r="1.7" fill="none" stroke="#0000ff" stroke-width="0.85"/>
<circle cx="442.31" cy="71.22" r="1.7" fill="none" stroke="#ff0000" stroke-width="0.85"/>
<circle cx="443.53" cy="71.02" r="1.7" fill="none" stroke="#0000ff" stroke-width="0.85"/>
<circle cx="444.01" cy="70.9" r="1.7" fill="none" stroke="#ff0000" stroke-width="0.85"/>
<circle cx="444.89" cy="69.81" r="1.7" fill="none" stroke="#ff0000" stroke-width="0.85"/>
<circle cx="445.83" cy="70.19" r="1.7" fill="none" stroke="#ff0000" stroke-width="0.85"/>
<circle cx="446.06" cy="69.15" r="1.7" fill="none" stroke="#ff0000" stroke-width="0.85"/>
<circle cx="446.94" cy="69.24" r="1.7" fill="none" stroke="#0000ff" stroke-width="0.85"/>
<circle cx="448.32" cy="69.67" r="1.7" fill="none" stroke="#0000ff" stroke-width="0.85"/>
<circle cx="448.89" cy="68.73" r="1.7" fill="none" stroke="#ff0000" stroke-width="0.85"/>
<circle cx="449.45" cy="68.28" r="1.7" fill="none" stroke="#ff0000" stroke-width="0.85"/>
<circle cx="450.54" cy="69" r="1.7" fill="none" stroke="#ff0000" stroke-width="0.85"/>
<circle cx="451.1" cy="68.2" r="1.7" fill="none" stroke="#ff0000" stroke-width="0.85"/>
<circle cx="451.61" cy="68.13" r="1.7" fill="none" stroke="#ff0000" stroke-width="0.85"/>
<circle cx="452.6" cy="68.08" r="1.7" fill="none" stroke="#0000ff" stroke-width="0.85"/>
<circle cx="453.3" cy="67.82" r="1.7" fill="none" stroke="#ff0000" stroke-width="0.85"/>
<circle cx="454.06" cy="67.55" r="1.7" fill="none" stroke="#ff0000" stroke-width="0.85"/>
<circle cx="454.42" cy="66.49" r="1.7" fill="none" stroke="#ff0000" stroke-width="0.85"/>
<circle cx="455.45" cy="67.06" r="1.7" fill="none" stroke="#0000ff" stroke-width="0.85"/>
<circle cx="456.62" cy="66.96" r="1.7" fill="none" stroke="#0000ff" stroke-width="0.85"/>
<circle cx="456.77" cy="65.84" r="1.7" fill="none" stroke="#ff0000" stroke-width="0.85"/>
<circle cx="457.76" cy="65.44" r="1.7" fill="none" stroke="#0000ff" stroke-width="0.85"/>
<circle cx="458.91" cy="65.44" r="1.7" fill="none" stroke="#ff0000" stroke-width="0.85"/>
<circle cx="459.58" cy="65.09" r="1.7" fill="none" stroke="#ff0000" stroke-width="0.85"/>
<circle cx="460.4" cy="65.18" r="1.7" fill="none" stroke="#0000ff" stroke-width="0.85"/>
<circle cx="461.25" cy="65.68" r="1.7" fill="none" stroke="#0000ff" stroke-width="0.85"/>
<circle cx="461.96" cy="64.59" r="1.7" fill="none" stroke="#ff0000" stroke-width="0.85"/>
<circle cx="462.84" cy="65.71" r="1.7" fill="none" stroke="#ff0000" stroke-width="0.85"/>
<circle cx="463.62" cy="64.6" r="1.7" fill="none" stroke="#ff0000" stroke-width="0.85"/>
<circle cx="464.08" cy="65.68" r="1.7" fill="none" stroke="#ff0000" stroke-width="0.85"/>
<circle cx="464.39" cy="65.85" r="1.7" fill="none" stroke="#0000ff" stroke-width="0.85"/>
<circle cx="465.04" cy="65.66" r="1.7" fill="none" stroke="#0000ff" stroke-width="0.85"/>
<circle cx="465.74" cy="66.11" r="1.7" fill="none" stroke="#ff0000" stroke-width="0.85"/>
<circle cx="466.18" cy="66.08" r="1.7" fill="none" stroke="#0000ff" stroke-width="0.85"/>
<circle cx="467" cy="66.2" r="1.7" fill="none" stroke="#ff0000" stroke-width="0.85"/>
<circle cx="467.31" cy="67.53" r="1.7" fill="none" stroke="#ff0000" stroke-width="0.85"/>
<circle cx="467.41" cy="67.84" r="1.7" fill="none" stroke="#ff0000" stroke-width="0.85"/>
<circle cx="468.53" cy="67.19" r="1.7" fill="none" stroke="#ff0000" stroke-width="0.85"/>
<circle cx="468.88" cy="67.51" r="1.7" fill="none" stroke="#ff0000" stroke-width="0.85"/>
<circle cx="469.61" cy="67.93" r="1.7" fill="none" stroke="#ff0000" stroke-width="0.85"/>
<circle cx="470.6" cy="68" r="1.7" fill="none" stroke="#ff0000" stroke-width="0.85"/>
<circle cx="469.6" cy="69.68" r="1.7" fill="none" stroke="#0000ff" stroke-width="0.85"/>
<circle cx="471.44" cy="68.58" r="1.7" fill="none" stroke="#ff0000" stroke-width="0.85"/>
<circle cx="471.36" cy="69.9" r="1.7" fill="none" stroke="#ff0000" stroke-width="0.85"/>
<circle cx="471.33" cy="71.19" r="1.7" fill="none" stroke="#0000ff" stroke-width="0.85"/>
<circle cx="471.85" cy="71.37" r="1.7" fill="none" stroke="#ff0000" stroke-width="0.85"/>
<circle cx="473.33" cy="70.6" r="1.7" fill="none" stroke="#ff0000" stroke-width="0.85"/>
<circle cx="473.19" cy="71.54" r="1.7" fill="none" stroke="#ff0000" stroke-width="0.85"/>
<circle cx="473.71" cy="72.53" r="1.7" fill="none" stroke="#ff0000" stroke-width="0.85"/>
<circle cx="475.04" cy="72.06" r="1.7" fill="none" stroke="#ff0000" stroke-width="0.85"/>
<circle cx="475.32" cy="72.1" r="1.7" fill="none" stroke="#ff0000" stroke-width="0.85"/>
<circle cx="474.73" cy="74.03" r="1.7" fill="none" stroke="#ff0000" stroke-width="0.85"/>
<circle cx="475.4" cy="73.86" r="1.7" fill="none" stroke="#ff0000" stroke-width="0.85"/>
<circle cx="476.22" cy="73.71" r="1.7" fill="none" stroke="#ff0000" stroke-width="0.85"/>
<circle cx="476.92" cy="74.63" r="1.7" fill="none" stroke="#ff0000" stroke-width="0.85"/>
<circle cx="477.56" cy="74.6" r="1.7" fill="none" stroke="#ff0000" stroke-width="0.85"/>
<circle cx="477.47" cy="75.56" r="1.7" fill="none" stroke="#ff0000" stroke-width="0.85"/>
<circle cx="478.7" cy="75.21" r="1.7" fill="none" stroke="#ff0000" stroke-width="0.85"/>
<circle cx="477.99" cy="76.3" r="1.7" fill="none" stroke="#ff0000" stroke-width="0.85"/>
<circle cx="478.33" cy="77.23" r="1.7" fill="none" stroke="#ff0000" stroke-width="0.85"/>
<circle cx="478.78" cy="77.61" r="1.7" fill="none" stroke="#ff0000" stroke-width="0.85"/>
<circle cx="479.8" cy="77.7" r="1.7" fill="none" stroke="#ff0000" stroke-width="0.85"/>
<circle cx="480.22" cy="77.94" r="1.7" fill="none" stroke="#0000ff" stroke-width="0.85"/>
<circle cx="481.41" cy="77.51" r="1.7" fill="none" stroke="#ff0000" stroke-width="0.85"/>
<circle cx="481" cy="79.05" r="1.7" fill="none" stroke="#ff0000" stroke-width="0.85"/>
<circle cx="481.36" cy="79.33" r="1.7" fill="none" stroke="#ff0000" stroke-width="0.85"/>
<circle cx="481.39" cy="80.06" r="1.7" fill="none" stroke="#ff0000" stroke-width="0.85"/>
<circle cx="481.93" cy="80.51" r="1.7" fill="none" stroke="#ff0000" stroke-width="0.85"/>
<circle cx="483.57" cy="79.77" r="1.7" fill="none" stroke="#ff0000" stroke-width="0.85"/>
<circle cx="482.5" cy="80.99" r="1.7" fill="none" stroke="#ff0000" stroke-width="0.85"/>
<circle cx="484.11" cy="80.61" r="1.7" fill="none" stroke="#ff0000" stroke-width="0.85"/>
<circle cx="483.45" cy="82.03" r="1.7" fill="none" stroke="#ff0000" stroke-width="0.85"/>
<circle cx="483.43" cy="82.98" r="1.7" fill="none" stroke="#0000ff" stroke-width="0.85"/>
<circle cx="484.76" cy="82.49" r="1.7" fill="none" stroke="#0000ff" stroke-width="0.85"/>
<circle cx="485.69" cy="83.04" r="1.7" fill="none" stroke="#0000ff" stroke-width="0.85"/>
<circle cx="484.76" cy="84.2" r="1.7" fill="none" stroke="#ff0000" stroke-width="0.85"/>
<circle cx="485.71" cy="83.96" r="1.7" fill="none" stroke="#ff0000" stroke-width="0.85"/>
<circle cx="485.7" cy="84.82" r="1.7" fill="none" stroke="#0000ff" stroke-width="0.85"/>
<circle cx="485.11" cy="85.93" r="1.7" fill="none" stroke="#ff0000" stroke-width="0.85"/>
<circle cx="485.75" cy="86.47" r="1.7" fill="none" stroke="#ff0000" stroke-width="0.85"/>
<circle cx="486.12" cy="86.91" r="1.7" fill="none" stroke="#ff0000" stroke-width="0.85"/>
<circle cx="486.54" cy="87.2" r="1.7" fill="none" stroke="#ff0000" stroke-width="0.85"/>
<circle cx="487.89" cy="87.33" r="1.7" fill="none" stroke="#ff0000" stroke-width="0.85"/>
<circle cx="487.13" cy="88.31" r="1.7" fill="none" stroke="#0000ff" stroke-width="0.85"/>
<circle cx="488.73" cy="88.29" r="1.7" fill="none" stroke="#ff0000" stroke-width="0.85"/>
<circle cx="487.69" cy="89.53" r="1.7" fill="none" stroke="#ff0000" stroke-width="0.85"/>
<circle cx="489.2" cy="89.67" r="1.7" fill="none" stroke="#ff0000" stroke-width="0.85"/>
<circle cx="488.85" cy="90.19" r="1.7" fill="none" stroke="#ff0000" stroke-width="0.85"/>
<circle cx="488.85" cy="90.56" r="1.7" fill="none" stroke="#ff0000" stroke-width="0.85"/>
<circle cx="488.66" cy="91.52" r="1.7" fill="none" stroke="#ff0000" stroke-width="0.85"/>
<circle cx="489.45" cy="91.6" r="1.7" fill="none" stroke="#ff0000" stroke-width="0.85"/>
<circle cx="489.81" cy="92.4" r="1.7" fill="none" stroke="#ff0000" stroke-width="0.85"/>
<circle cx="490.59" cy="93.11" r="1.7" fill="none" stroke="#0000ff" stroke-width="0.85"/>
<circle cx="490.87" cy="93.09" r="1.7" fill="none" stroke="#ff0000" stroke-width="0.85"/>
<circle cx="489.07" cy="94.53" r="1.7" fill="none" stroke="#0000ff" stroke-width="0.85"/>
<circle cx="490.6" cy="94.71" r="1.7" fill="none" stroke="#ff0000" stroke-width="0.85"/>
<circle cx="490.07" cy="95.38" r="1.7" fill="none" stroke="#ff0000" stroke-width="0.85"/>
<circle cx="490.33" cy="95.99" r="1.7" fill="none" stroke="#ff0000" stroke-width="0.85"/>
<circle cx="491.41" cy="96.51" r="1.7" fill="none" stroke="#ff0000" stroke-width="0.85"/>
<circle cx="491.58" cy="96.81" r="1.7" fill="none" stroke="#0000ff" stroke-width="0.85"/>
<circle cx="490.09" cy="98" r="1.7" fill="none" stroke="#ff0000" stroke-width="0.85"/>
<circle cx="491.49" cy="98.47" r="1.7" fill="none" stroke="#ff0000" stroke-width="0.85"/>
<circle cx="490.7" cy="99.33" r="1.7" fill="none" stroke="#ff0000" stroke-width="0.85"/>
<circle cx="490.85" cy="99.69" r="1.7" fill="none" stroke="#ff0000" stroke-width="0.85"/>
<circle cx="491.32" cy="100.48" r="1.7" fill="none" stroke="#ff0000" stroke-width="0.85"/>
<circle cx="492.6" cy="100.74" r="1.7" fill="none" stroke="#0000ff" stroke-width="0.85"/>
<circle cx="491.23" cy="101.49" r="1.7" fill="none" stroke="#0000ff" stroke-width="0.85"/>
<circle cx="492.83" cy="101.75" r="1.7" fill="none" stroke="#0000ff" stroke-width="0.85"/>
<circle cx="491.33" cy="102.82" r="1.7" fill="none" stroke="#ff0000" stroke-width="0.85"/>
<circle cx="492.2" cy="103.04" r="1.7" fill="none" stroke="#ff0000" stroke-width="0.85"/>
<circle cx="491.77" cy="103.88" r="1.7" fill="none" stroke="#ff0000" stroke-width="0.85"/>
<circle cx="493.07" cy="104" r="1.7" fill="none" stroke="#ff0000" stroke-width="0.85"/>
<circle cx="492.47" cy="104.82" r="1.7" fill="none" stroke="#ff0000" stroke-width="0.85"/>
<circle cx="492.19" cy="105.4" r="1.7" fill="none" stroke="#0000ff" stroke-width="0.85"/>
<circle cx="493.32" cy="106.26" r="1.7" fill="none" stroke="#ff0000" stroke-width="0.85"/>
<circle cx="492.78" cy="106.53" r="1.7" fill="none" stroke="#ff0000" stroke-width="0.85"/>
<circle cx="493.44" cy="107.19" r="1.7" fill="none" stroke="#ff0000" stroke-width="0.85"/>
<circle cx="493.1" cy="107.94" r="1.7" fill="none" stroke="#ff0000" stroke-width="0.85"/>
<circle cx="494.16" cy="108.23" r="1.7" fill="none" stroke="#ff0000" stroke-width="0.85"/>
<circle cx="492.64" cy="109.12" r="1.7" fill="none" stroke="#ff0000" stroke-width="0.85"/>
<circle cx="493.65" cy="109.96" r="1.7" fill="none" stroke="#ff0000" stroke-width="0.85"/>
<circle cx="494.44" cy="110.15" r="1.7" fill="none" stroke="#ff0000" stroke-width="0.85"/>
<circle cx="493.36" cy="111.32" r="1.7" fill="none" stroke="#ff0000" stroke-width="0.85"/>
<circle cx="494.45" cy="111.44" r="1.7" fill="none" stroke="#ff0000" stroke-width="0.85"/>
<circle cx="494.87" cy="112.27" r="1.7" fill="none" stroke="#ff0000" stroke-width="0.85"/>
<circle cx="494.26" cy="112.62" r="1.7" fill="none" stroke="#ff0000" stroke-width="0.85"/>
<circle cx="494.3" cy="113.56" r="1.7" fill="none" stroke="#ff0000" stroke-width="0.85"/>
<circle cx="494.22" cy="114.28" r="1.7" fill="none" stroke="#ff0000" stroke-width="0.85"/>
<circle cx="493.77" cy="114.98" r="1.7" fill="none" stroke="#ff0000" stroke-width="0.85"/>
<circle cx="495.33" cy="115.36" r="1.7" fill="none" stroke="#ff0000" stroke-width="0.85"/>
<circle cx="495.61" cy="115.76" r="1.7" fill="none" stroke="#ff0000" stroke-width="0.85"/>
<circle cx="495.52" cy="116.56" r="1.7" fill="none" stroke="#ff0000" stroke-width="0.85"/>
<circle cx="493.81" cy="117.01" r="1.7" fill="none" stroke="#ff0000" stroke-width="0.85"/>
<circle cx="494.07" cy="117.59" r="1.7" fill="none" stroke="#0000ff" stroke-width="0.85"/>
<circle cx="495.1" cy="118.31" r="1.7" fill="none" stroke="#ff0000" stroke-width="0.85"/>
<circle cx="495.65" cy="118.84" r="1.7" fill="none" stroke="#0000ff" stroke-width="0.85"/>
<circle cx="494.54" cy="119.73" r="1.7" fill="none" stroke="#ff0000" stroke-width="0.85"/>
<circle cx="494.23" cy="119.98" r="1.7" fill="none" stroke="#ff0000" stroke-width="0.85"/>
<circle cx="495.93" cy="120.57" r="1.7" fill="none" stroke="#ff0000" stroke-width="0.85"/>
<circle cx="496.42" cy="120.85" r="1.7" fill="none" stroke="#ff0000" stroke-width="0.85"/>
<circle cx="495.86" cy="121.65" r="1.7" fill="none" stroke="#ff0000" stroke-width="0.85"/>
<circle cx="495.28" cy="122.65" r="1.7" fill="none" stroke="#ff0000" stroke-width="0.85"/>
<circle cx="494.7" cy="123.05" r="1.7" fill="none" stroke="#ff0000" stroke-width="0.85"/>
<circle cx="495.95" cy="123.73" r="1.7" fill="none" stroke="#ff0000" stroke-width="0.85"/>
<circle cx="495.98" cy="124.08" r="1.7" fill="none" stroke="#ff0000" stroke-width="0.85"/>
<circle cx="496.42" cy="124.51" r="1.7" fill="none" stroke="#ff0000" stroke-width="0.85"/>
<circle cx="496.63" cy="125.44" r="1.7" fill="none" stroke="#ff0000" stroke-width="0.85"/>
<circle cx="496.01" cy="125.99" r="1.7" fill="none" stroke="#ff0000" stroke-width="0.85"/>
<circle cx="495.04" cy="126.96" r="1.7" fill="none" stroke="#ff0000" stroke-width="0.85"/>
<circle cx="495.3" cy="127.18" r="1.7" fill="none" stroke="#ff0000" stroke-width="0.85"/>
<circle cx="496.41" cy="128.05" r="1.7" fill="none" stroke="#ff0000" stroke-width="0.85"/>
<circle cx="495.29" cy="128.53" r="1.7" fill="none" stroke="#ff0000" stroke-width="0.85"/>
<circle cx="496.61" cy="129.03" r="1.7" fill="none" stroke="#ff0000" stroke-width="0.85"/>
<circle cx="495.88" cy="129.54" r="1.7" fill="none" stroke="#ff0000" stroke-width="0.85"/>
<circle cx="496" cy="130.5" r="1.7" fill="none" stroke="#ff0000" stroke-width="0.85"/>
<circle cx="497.41" cy="131.02" r="1.7" fill="none" stroke="#ff0000" stroke-width="0.85"/>
<circle cx="496.67" cy="131.66" r="1.7" fill="none" stroke="#ff0000" stroke-width="0.85"/>
<circle cx="495.99" cy="131.99" r="1.7" fill="none" stroke="#ff0000" stroke-width="0.85"/>
<circle cx="496.87" cy="132.73" r="1.7" fill="none" stroke="#ff0000" stroke-width="0.85"/>
<circle cx="497.29" cy="132.97" r="1.7" fill="none" stroke="#ff0000" stroke-width="0.85"/>
<circle cx="495.63" cy="133.72" r="1.7" fill="none" stroke="#ff0000" stroke-width="0.85"/>
<circle cx="496.21" cy="134.3" r="1.7" fill="none" stroke="#ff0000" stroke-width="0.85"/>
<circle cx="496.19" cy="135.08" r="1.7" fill="none" stroke="#ff0000" stroke-width="0.85"/>
<circle cx="496.91" cy="135.55" r="1.7" fill="none" stroke="#ff0000" stroke-width="0.85"/>
<circle cx="497.63" cy="135.97" r="1.7" fill="none" stroke="#ff0000" stroke-width="0.85"/>
<circle cx="496.26" cy="136.87" r="1.7" fill="none" stroke="#ff0000" stroke-width="0.85"/>
<circle cx="497.36" cy="137.38" r="1.7" fill="none" stroke="#ff0000" stroke-width="0.85"/>
<circle cx="496.27" cy="138.16" r="1.7" fill="none" stroke="#ff0000" stroke-width="0.85"/>
<circle cx="496.52" cy="138.86" r="1.7" fill="none" stroke="#ff0000" stroke-width="0.85"/>
<circle cx="497.28" cy="139.1" r="1.7" fill="none" stroke="#ff0000" stroke-width="0.85"/>
<circle cx="496.54" cy="140.04" r="1.7" fill="none" stroke="#ff0000" stroke-width="0.85"/>
<circle cx="497.61" cy="140.63" r="1.7" fill="none" stroke="#ff0000" stroke-width="0.85"/>
<circle cx="497.09" cy="141.17" r="1.7" fill="none" stroke="#ff0000" stroke-width="0.85"/>
<circle cx="496.58" cy="141.48" r="1.7" fill="none" stroke="#ff0000" stroke-width="0.85"/>
<circle cx="496.12" cy="142.48" r="1.7" fill="none" stroke="#ff0000" stroke-width="0.85"/>
<circle cx="495.89" cy="143.1" r="1.7" fill="none" stroke="#0000ff" stroke-width="0.85"/>
<circle cx="496.82" cy="143.75" r="1.7" fill="none" stroke="#ff0000" stroke-width="0.85"/>
<circle cx="497.79" cy="144.07" r="1.7" fill="none" stroke="#ff0000" stroke-width="0.85"/>
<circle cx="497.44" cy="145.21" r="1.7" fill="none" stroke="#ff0000" stroke-width="0.85"/>
<circle cx="496.31" cy="145.8" r="1.7" fill="none" stroke="#ff0000" stroke-width="0.85"/>
<circle cx="496.24" cy="146.19" r="1.7" fill="none" stroke="#ff0000" stroke-width="0.85"/>
<circle cx="496.26" cy="146.98" r="1.7" fill="none" stroke="#ff0000" stroke-width="0.85"/>
<circle cx="496.39" cy="147.64" r="1.7" fill="none" stroke="#ff0000" stroke-width="0.85"/>
<circle cx="496.06" cy="148.04" r="1.7" fill="none" stroke="#ff0000" stroke-width="0.85"/>
<circle cx="496.32" cy="148.75" r="1.7" fill="none" stroke="#0000ff" stroke-width="0.85"/>
<circle cx="496.78" cy="149.14" r="1.7" fill="none" stroke="#ff0000" stroke-width="0.85"/>
<circle cx="497.08" cy="150.22" r="1.7" fill="none" stroke="#ff0000" stroke-width="0.85"/>
<circle cx="496.53" cy="150.61" r="1.7" fill="none" stroke="#ff0000" stroke-width="0.85"/>
<circle cx="496.37" cy="151.16" r="1.7" fill="none" stroke="#ff0000" stroke-width="0.85"/>
<circle cx="495.75" cy="151.39" r="1.7" fill="none" stroke="#ff0000" stroke-width="0.85"/>
<circle cx="497.01" cy="152.51" r="1.7" fill="none" stroke="#ff0000" stroke-width="0.85"/>
<circle cx="495.99" cy="153.18" r="1.7" fill="none" stroke="#ff0000" stroke-width="0.85"/>
<circle cx="496.33" cy="153.79" r="1.7" fill="none" stroke="#ff0000" stroke-width="0.85"/>
<circle cx="496.49" cy="154.59" r="1.7" fill="none" stroke="#ff0000" stroke-width="0.85"/>
<circle cx="495.86" cy="154.95" r="1.7" fill="none" stroke="#ff0000" stroke-width="0.85"/>
<circle cx="496.83" cy="155.93" r="1.7" fill="none" stroke="#ff0000" stroke-width="0.85"/>
<circle cx="496.83" cy="156.32" r="1.7" fill="none" stroke="#ff0000" stroke-width="0.85"/>
<circle cx="496.05" cy="156.95" r="1.7" fill="none" stroke="#ff0000" stroke-width="0.85"/>
<circle cx="495.35" cy="157.52" r="1.7" fill="none" stroke="#ff0000" stroke-width="0.85"/>
<circle cx="494.39" cy="157.79" r="1.7" fill="none" stroke="#ff0000" stroke-width="0.85"/>
<circle cx="496.33" cy="158.96" r="1.7" fill="none" stroke="#ff0000" stroke-width="0.85"/>
<circle cx="495.42" cy="159.27" r="1.7" fill="none" stroke="#ff0000" stroke-width="0.85"/>
<circle cx="494.09" cy="159.81" r="1.7" fill="none" stroke="#ff0000" stroke-width="0.85"/>
<circle cx="495.57" cy="160.43" r="1.7" fill="none" stroke="#0000ff" stroke-width="0.85"/>
<circle cx="495.27" cy="161.06" r="1.7" fill="none" stroke="#ff0000" stroke-width="0.85"/>
<circle cx="494.71" cy="161.86" r="1.7" fill="none" stroke="#ff0000" stroke-width="0.85"/>
<circle cx="495.64" cy="162.49" r="1.7" fill="none" stroke="#ff0000" stroke-width="0.85"/>
<circle cx="494.86" cy="162.63" r="1.7" fill="none" stroke="#ff0000" stroke-width="0.85"/>
<circle cx="493.74" cy="163.24" r="1.7" fill="none" stroke="#ff0000" stroke-width="0.85"/>
<circle cx="493.83" cy="163.75" r="1.7" fill="none" stroke="#ff0000" stroke-width="0.85"/>
<circle cx="494.3" cy="164.42" r="1.7" fill="none" stroke="#ff0000" stroke-width="0.85"/>
<circle cx="494.48" cy="165.29" r="1.7" fill="none" stroke="#ff0000" stroke-width="0.85"/>
<circle cx="492.75" cy="165.72" r="1.7" fill="none" stroke="#ff0000" stroke-width="0.85"/>
<circle cx="494.22" cy="166.72" r="1.7" fill="none" stroke="#0000ff" stroke-width="0.85"/>
<circle cx="494.47" cy="166.96" r="1.7" fill="none" stroke="#ff0000" stroke-width="0.85"/>
<circle cx="493.9" cy="167.79" r="1.7" fill="none" stroke="#0000ff" stroke-width="0.85"/>
<circle cx="493.31" cy="168.06" r="1.7" fill="none" stroke="#ff0000" stroke-width="0.85"/>
<circle cx="492.46" cy="168.56" r="1.7" fill="none" stroke="#ff0000" stroke-width="0.85"/>
<circle cx="493.34" cy="169.32" r="1.7" fill="none" stroke="#ff0000" stroke-width="0.85"/>
<circle cx="419.17" cy="100.86" r="1.7" fill="none" stroke="#0000ff" stroke-width="0.85"/>
<circle cx="418.77" cy="102.1" r="1.7" fill="none" stroke="#0000ff" stroke-width="0.85"/>
<circle cx="419.09" cy="103.86" r="1.7" fill="none" stroke="#0000ff" stroke-width="0.85"/>
<circle cx="419.16" cy="105.14" r="1.7" fill="none" stroke="#ff0000" stroke-width="0.85"/>
<circle cx="418.71" cy="106.69" r="1.7" fill="none" stroke="#ff0000" stroke-width="0.85"/>
<circle cx="418.37" cy="108.46" r="1.7" fill="none" stroke="#0000ff" stroke-width="0.85"/>
<circle cx="418.42" cy="111.09" r="1.7" fill="none" stroke="#0000ff" stroke-width="0.85"/>
<circle cx="418.05" cy="112.62" r="1.7" fill="none" stroke="#0000ff" stroke-width="0.85"/>
<circle cx="417.87" cy="114.46" r="1.7" fill="none" stroke="#0000ff" stroke-width="0.85"/>
<circle cx="417.29" cy="116.12" r="1.7" fill="none" stroke="#0000ff" stroke-width="0.85"/>
<circle cx="417.3" cy="117.64" r="1.7" fill="none" stroke="#0000ff" stroke-width="0.85"/>
<circle cx="417.24" cy="118.91" r="1.7" fill="none" stroke="#0000ff" stroke-width="0.85"/>
<circle cx="417.61" cy="120.56" r="1.7" fill="none" stroke="#0000ff" stroke-width="0.85"/>
<circle cx="417.33" cy="122.31" r="1.7" fill="none" stroke="#0000ff" stroke-width="0.85"/>
<circle cx="417.67" cy="123.66" r="1.7" fill="none" stroke="#ff0000" stroke-width="0.85"/>
<circle cx="417.22" cy="125.34" r="1.7" fill="none" stroke="#0000ff" stroke-width="0.85"/>
<circle cx="417.27" cy="126.72" r="1.7" fill="none" stroke="#0000ff" stroke-width="0.85"/>
<circle cx="417.15" cy="128.56" r="1.7" fill="none" stroke="#0000ff" stroke-width="0.85"/>
<circle cx="416.84" cy="130.32" r="1.7" fill="none" stroke="#ff0000" stroke-width="0.85"/>
<circle cx="417.11" cy="132.17" r="1.7" fill="none" stroke="#0000ff" stroke-width="0.85"/>
<circle cx="416.58" cy="136.98" r="1.7" fill="none" stroke="#0000ff" stroke-width="0.85"/>
<circle cx="416.73" cy="138.11" r="1.7" fill="none" stroke="#0000ff" stroke-width="0.85"/>
<circle cx="416.96" cy="140.1" r="1.7" fill="none" stroke="#0000ff" stroke-width="0.85"/>
<circle cx="416.78" cy="141.6" r="1.7" fill="none" stroke="#0000ff" stroke-width="0.85"/>
<circle cx="416.87" cy="143.06" r="1.7" fill="none" stroke="#0000ff" stroke-width="0.85"/>
<circle cx="416.54" cy="144.8" r="1.7" fill="none" stroke="#0000ff" stroke-width="0.85"/>
<circle cx="416.74" cy="146.43" r="1.7" fill="none" stroke="#0000ff" stroke-width="0.85"/>
<circle cx="416.35" cy="148" r="1.7" fill="none" stroke="#0000ff" stroke-width="0.85"/>
<circle cx="416.62" cy="150.04" r="1.7" fill="none" stroke="#ff0000" stroke-width="0.85"/>
<circle cx="416.29" cy="151.28" r="1.7" fill="none" stroke="#0000ff" stroke-width="0.85"/>
<circle cx="416.82" cy="153.11" r="1.7" fill="none" stroke="#0000ff" stroke-width="0.85"/>
<circle cx="416.92" cy="154.42" r="1.7" fill="none" stroke="#ff0000" stroke-width="0.85"/>
<circle cx="416.54" cy="156.24" r="1.7" fill="none" stroke="#0000ff" stroke-width="0.85"/>
<circle cx="416.72" cy="157.91" r="1.7" fill="none" stroke="#0000ff" stroke-width="0.85"/>
<circle cx="417.19" cy="159.31" r="1.7" fill="none" stroke="#ff0000" stroke-width="0.85"/>
<circle cx="417.27" cy="161.06" r="1.7" fill="none" stroke="#0000ff" stroke-width="0.85"/>
<circle cx="417.35" cy="162.67" r="1.7" fill="none" stroke="#ff0000" stroke-width="0.85"/>
<circle cx="417.46" cy="164.4" r="1.7" fill="none" stroke="#ff0000" stroke-width="0.85"/>
<circle cx="417.35" cy="166.27" r="1.7" fill="none" stroke="#0000ff" stroke-width="0.85"/>
<circle cx="417.82" cy="167.78" r="1.7" fill="none" stroke="#ff0000" stroke-width="0.85"/>
<circle cx="418.04" cy="169.16" r="1.7" fill="none" stroke="#0000ff" stroke-width="0.85"/>
<circle cx="418.03" cy="170.28" r="1.7" fill="none" stroke="#0000ff" stroke-width="0.85"/>
<circle cx="418.25" cy="172.24" r="1.7" fill="none" stroke="#ff0000" stroke-width="0.85"/>
<circle cx="418.23" cy="173.36" r="1.7" fill="none" stroke="#0000ff" stroke-width="0.85"/>
<circle cx="418.11" cy="175.15" r="1.7" fill="none" stroke="#0000ff" stroke-width="0.85"/>
<circle cx="418.35" cy="176.85" r="1.7" fill="none" stroke="#ff0000" stroke-width="0.85"/>
<circle cx="418.88" cy="178.25" r="1.7" fill="none" stroke="#0000ff" stroke-width="0.85"/>
<circle cx="418.99" cy="179.88" r="1.7" fill="none" stroke="#0000ff" stroke-width="0.85"/>
<circle cx="419.01" cy="180.96" r="1.7" fill="none" stroke="#ff0000" stroke-width="0.85"/>
<circle cx="419.01" cy="182.82" r="1.7" fill="none" stroke="#ff0000" stroke-width="0.85"/>
<circle cx="419.19" cy="184.42" r="1.7" fill="none" stroke="#0000ff" stroke-width="0.85"/>
<circle cx="419.35" cy="185.47" r="1.7" fill="none" stroke="#0000ff" stroke-width="0.85"/>
<circle cx="419.57" cy="187.22" r="1.7" fill="none" stroke="#0000ff" stroke-width="0.85"/>
<circle cx="420.13" cy="188.5" r="1.7" fill="none" stroke="#ff0000" stroke-width="0.85"/>
<circle cx="420.23" cy="190.19" r="1.7" fill="none" stroke="#ff0000" stroke-width="0.85"/>
<circle cx="420.61" cy="191.68" r="1.7" fill="none" stroke="#ff0000" stroke-width="0.85"/>
<circle cx="421.22" cy="193.53" r="1.7" fill="none" stroke="#ff0000" stroke-width="0.85"/>
<circle cx="422.15" cy="194.94" r="1.7" fill="none" stroke="#ff0000" stroke-width="0.85"/>
<circle cx="422.04" cy="196.9" r="1.7" fill="none" stroke="#0000ff" stroke-width="0.85"/>
<circle cx="423.21" cy="197.45" r="1.7" fill="none" stroke="#0000ff" stroke-width="0.85"/>
<circle cx="423.48" cy="198.22" r="1.7" fill="none" stroke="#0000ff" stroke-width="0.85"/>
<circle cx="423.87" cy="199.31" r="1.7" fill="none" stroke="#0000ff" stroke-width="0.85"/>
<circle cx="424.63" cy="199.88" r="1.7" fill="none" stroke="#0000ff" stroke-width="0.85"/>
<circle cx="424.31" cy="201.48" r="1.7" fill="none" stroke="#0000ff" stroke-width="0.85"/>
<circle cx="424.66" cy="201.83" r="1.7" fill="none" stroke="#0000ff" stroke-width="0.85"/>
<circle cx="425.2" cy="202.66" r="1.7" fill="none" stroke="#0000ff" stroke-width="0.85"/>
<circle cx="425.93" cy="203.23" r="1.7" fill="none" stroke="#0000ff" stroke-width="0.85"/>
<circle cx="426.87" cy="204.04" r="1.7" fill="none" stroke="#ff0000" stroke-width="0.85"/>
<circle cx="427.23" cy="204.86" r="1.7" fill="none" stroke="#0000ff" stroke-width="0.85"/>
<circle cx="428.52" cy="205.37" r="1.7" fill="none" stroke="#ff0000" stroke-width="0.85"/>
<circle cx="428.15" cy="206.78" r="1.7" fill="none" stroke="#0000ff" stroke-width="0.85"/>
<circle cx="429.19" cy="206.91" r="1.7" fill="none" stroke="#0000ff" stroke-width="0.85"/>
<circle cx="429.61" cy="207.48" r="1.7" fill="none" stroke="#0000ff" stroke-width="0.85"/>
<circle cx="429.9" cy="208.63" r="1.7" fill="none" stroke="#ff0000" stroke-width="0.85"/>
<circle cx="430.29" cy="209.57" r="1.7" fill="none" stroke="#ff0000" stroke-width="0.85"/>
<circle cx="430.9" cy="210.28" r="1.7" fill="none" stroke="#0000ff" stroke-width="0.85"/>
<circle cx="431.98" cy="210.72" r="1.7" fill="none" stroke="#ff0000" stroke-width="0.85"/>
<circle cx="433.01" cy="211.05" r="1.7" fill="none" stroke="#0000ff" stroke-width="0.85"/>
<circle cx="433.49" cy="211.59" r="1.7" fill="none" stroke="#0000ff" stroke-width="0.85"/>
<circle cx="433.58" cy="213.06" r="1.7" fill="none" stroke="#0000ff" stroke-width="0.85"/>
<circle cx="435.2" cy="212.93" r="1.7" fill="none" stroke="#0000ff" stroke-width="0.85"/>
<circle cx="434.93" cy="214.45" r="1.7" fill="none" stroke="#0000ff" stroke-width="0.85"/>
<circle cx="436.56" cy="214.48" r="1.7" fill="none" stroke="#0000ff" stroke-width="0.85"/>
<circle cx="437.03" cy="214.75" r="1.7" fill="none" stroke="#0000ff" stroke-width="0.85"/>
<circle cx="436.81" cy="216.33" r="1.7" fill="none" stroke="#ff0000" stroke-width="0.85"/>
<circle cx="438.24" cy="216.85" r="1.7" fill="none" stroke="#0000ff" stroke-width="0.85"/>
<circle cx="438.72" cy="217.36" r="1.7" fill="none" stroke="#ff0000" stroke-width="0.85"/>
<circle cx="439.26" cy="218.19" r="1.7" fill="none" stroke="#00ff00" stroke-width="0.85"/>
<circle cx="440.6" cy="217.8" r="1.7" fill="none" stroke="#0000ff" stroke-width="0.85"/>
<circle cx="440.85" cy="219.03" r="1.7" fill="none" stroke="#0000ff" stroke-width="0.85"/>
<circle cx="442.06" cy="219.18" r="1.7" fill="none" stroke="#0000ff" stroke-width="0.85"/>
<circle cx="442.8" cy="219.71" r="1.7" fill="none" stroke="#0000ff" stroke-width="0.85"/>
<circle cx="443.35" cy="220.75" r="1.7" fill="none" stroke="#0000ff" stroke-width="0.85"/>
<circle cx="444.24" cy="221.1" r="1.7" fill="none" stroke="#0000ff" stroke-width="0.85"/>
<circle cx="444.98" cy="221.02" r="1.7" fill="none" stroke="#0000ff" stroke-width="0.85"/>
<circle cx="445.15" cy="222.21" r="1.7" fill="none" stroke="#0000ff" stroke-width="0.85"/>
<circle cx="446.18" cy="222.36" r="1.7" fill="none" stroke="#0000ff" stroke-width="0.85"/>
<circle cx="447.51" cy="221.85" r="1.7" fill="none" stroke="#ff0000" stroke-width="0.85"/>
<circle cx="448.39" cy="222.75" r="1.7" fill="none" stroke="#0000ff" stroke-width="0.85"/>
<circle cx="448.91" cy="222.57" r="1.7" fill="none" stroke="#0000ff" stroke-width="0.85"/>
<circle cx="449.69" cy="223.91" r="1.7" fill="none" stroke="#0000ff" stroke-width="0.85"/>
<circle cx="450.37" cy="224.19" r="1.7" fill="none" stroke="#0000ff" stroke-width="0.85"/>
<circle cx="450.96" cy="225.19" r="1.7" fill="none" stroke="#0000ff" stroke-width="0.85"/>
<circle cx="452.4" cy="224.47" r="1.7" fill="none" stroke="#0000ff" stroke-width="0.85"/>
<circle cx="453" cy="224.67" r="1.7" fill="none" stroke="#ff0000" stroke-width="0.85"/>
<circle cx="454.25" cy="224.96" r="1.7" fill="none" stroke="#0000ff" stroke-width="0.85"/>
<circle cx="454.98" cy="225.54" r="1.7" fill="none" stroke="#0000ff" stroke-width="0.85"/>
<circle cx="456.11" cy="225.27" r="1.7" fill="none" stroke="#0000ff" stroke-width="0.85"/>
<circle cx="456.99" cy="224.84" r="1.7" fill="none" stroke="#0000ff" stroke-width="0.85"/>
<circle cx="458.04" cy="225.03" r="1.7" fill="none" stroke="#0000ff" stroke-width="0.85"/>
<circle cx="458.78" cy="224.47" r="1.7" fill="none" stroke="#0000ff" stroke-width="0.85"/>
<circle cx="459.83" cy="224.68" r="1.7" fill="none" stroke="#0000ff" stroke-width="0.85"/>
<circle cx="460.76" cy="225.31" r="1.7" fill="none" stroke="#0000ff" stroke-width="0.85"/>
<circle cx="461.44" cy="224.39" r="1.7" fill="none" stroke="#00ff00" stroke-width="0.85"/>
<circle cx="462.74" cy="224.56" r="1.7" fill="none" stroke="#0000ff" stroke-width="0.85"/>
<circle cx="462.98" cy="223.1" r="1.7" fill="none" stroke="#0000ff" stroke-width="0.85"/>
<circle cx="464.05" cy="222.94" r="1.7" fill="none" stroke="#0000ff" stroke-width="0.85"/>
<circle cx="464.5" cy="222.43" r="1.7" fill="none" stroke="#0000ff" stroke-width="0.85"/>
<circle cx="465.52" cy="222.61" r="1.7" fill="none" stroke="#0000ff" stroke-width="0.85"/>
<circle cx="466.07" cy="221.67" r="1.7" fill="none" stroke="#0000ff" stroke-width="0.85"/>
<circle cx="467" cy="221.06" r="1.7" fill="none" stroke="#0000ff" stroke-width="0.85"/>
<circle cx="468.35" cy="221.23" r="1.7" fill="none" stroke="#0000ff" stroke-width="0.85"/>
<circle cx="469.07" cy="220.79" r="1.7" fill="none" stroke="#0000ff" stroke-width="0.85"/>
<circle cx="469.47" cy="220.44" r="1.7" fill="none" stroke="#0000ff" stroke-width="0.85"/>
<circle cx="470.59" cy="220.25" r="1.7" fill="none" stroke="#0000ff" stroke-width="0.85"/>
<circle cx="470.66" cy="219.11" r="1.7" fill="none" stroke="#0000ff" stroke-width="0.85"/>
<circle cx="472.01" cy="218.87" r="1.7" fill="none" stroke="#0000ff" stroke-width="0.85"/>
<circle cx="472.6" cy="218.64" r="1.7" fill="none" stroke="#0000ff" stroke-width="0.85"/>
<circle cx="473.4" cy="217.72" r="1.7" fill="none" stroke="#0000ff" stroke-width="0.85"/>
<circle cx="474.08" cy="217.03" r="1.7" fill="none" stroke="#0000ff" stroke-width="0.85"/>
<circle cx="475.13" cy="216.96" r="1.7" fill="none" stroke="#0000ff" stroke-width="0.85"/>
<circle cx="475.77" cy="216.09" r="1.7" fill="none" stroke="#ff0000" stroke-width="0.85"/>
<circle cx="476.68" cy="215.88" r="1.7" fill="none" stroke="#0000ff" stroke-width="0.85"/>
<circle cx="477.64" cy="215.89" r="1.7" fill="none" stroke="#0000ff" stroke-width="0.85"/>
<circle cx="478.08" cy="215.43" r="1.7" fill="none" stroke="#0000ff" stroke-width="0.85"/>
<circle cx="479.31" cy="215.57" r="1.7" fill="none" stroke="#ff0000" stroke-width="0.85"/>
<circle cx="479.62" cy="214.5" r="1.7" fill="none" stroke="#0000ff" stroke-width="0.85"/>
<circle cx="480.63" cy="213.88" r="1.7" fill="none" stroke="#0000ff" stroke-width="0.85"/>
<circle cx="481.45" cy="213.39" r="1.7" fill="none" stroke="#0000ff" stroke-width="0.85"/>
<circle cx="481.63" cy="212.92" r="1.7" fill="none" stroke="#0000ff" stroke-width="0.85"/>
<circle cx="482.47" cy="212.75" r="1.7" fill="none" stroke="#0000ff" stroke-width="0.85"/>
<circle cx="483.02" cy="211.72" r="1.7" fill="none" stroke="#0000ff" stroke-width="0.85"/>
<circle cx="483.9" cy="211.15" r="1.7" fill="none" stroke="#0000ff" stroke-width="0.85"/>
<circle cx="484.48" cy="210.63" r="1.7" fill="none" stroke="#0000ff" stroke-width="0.85"/>
<circle cx="486" cy="210.91" r="1.7" fill="none" stroke="#0000ff" stroke-width="0.85"/>
<circle cx="486.68" cy="210.17" r="1.7" fill="none" stroke="#0000ff" stroke-width="0.85"/>
<circle cx="487.46" cy="209.95" r="1.7" fill="none" stroke="#00ff00" stroke-width="0.85"/>
<circle cx="487.58" cy="209.01" r="1.7" fill="none" stroke="#0000ff" stroke-width="0.85"/>
<circle cx="488.37" cy="208.56" r="1.7" fill="none" stroke="#0000ff" stroke-width="0.85"/>
<circle cx="489.11" cy="208.32" r="1.7" fill="none" stroke="#0000ff" stroke-width="0.85"/>
<circle cx="489.81" cy="207.61" r="1.7" fill="none" stroke="#0000ff" stroke-width="0.85"/>
<circle cx="490.38" cy="206.32" r="1.7" fill="none" stroke="#0000ff" stroke-width="0.85"/>
<circle cx="491.51" cy="206.67" r="1.7" fill="none" stroke="#0000ff" stroke-width="0.85"/>
<circle cx="491.63" cy="205.88" r="1.7" fill="none" stroke="#0000ff" stroke-width="0.85"/>
<circle cx="492.99" cy="206.13" r="1.7" fill="none" stroke="#00ff00" stroke-width="0.85"/>
<circle cx="493.05" cy="204.59" r="1.7" fill="none" stroke="#00ff00" stroke-width="0.85"/>
<circle cx="493.81" cy="204.18" r="1.7" fill="none" stroke="#0000ff" stroke-width="0.85"/>
<circle cx="494.83" cy="204.06" r="1.7" fill="none" stroke="#0000ff" stroke-width="0.85"/>
<circle cx="496.17" cy="203.95" r="1.7" fill="none" stroke="#0000ff" stroke-width="0.85"/>
<circle cx="496.36" cy="202.49" r="1.7" fill="none" stroke="#0000ff" stroke-width="0.85"/>
<circle cx="497.52" cy="202.7" r="1.7" fill="none" stroke="#0000ff" stroke-width="0.85"/>
<circle cx="497.9" cy="201.98" r="1.7" fill="none" stroke="#0000ff" stroke-width="0.85"/>
<circle cx="498.64" cy="200.78" r="1.7" fill="none" stroke="#0000ff" stroke-width="0.85"/>
<circle cx="499.57" cy="200.91" r="1.7" fill="none" stroke="#ff0000" stroke-width="0.85"/>
<circle cx="500.16" cy="199.75" r="1.7" fill="none" stroke="#0000ff" stroke-width="0.85"/>
<circle cx="501.25" cy="200.03" r="1.7" fill="none" stroke="#0000ff" stroke-width="0.85"/>
<circle cx="502.01" cy="199.77" r="1.7" fill="none" stroke="#0000ff" stroke-width="0.85"/>
<circle cx="502.68" cy="198.62" r="1.7" fill="none" stroke="#0000ff" stroke-width="0.85"/>
<circle cx="503.28" cy="197.98" r="1.7" fill="none" stroke="#0000ff" stroke-width="0.85"/>
<circle cx="504.67" cy="198.66" r="1.7" fill="none" stroke="#0000ff" stroke-width="0.85"/>
<circle cx="505.56" cy="198.26" r="1.7" fill="none" stroke="#0000ff" stroke-width="0.85"/>
<circle cx="506.32" cy="197.6" r="1.7" fill="none" stroke="#0000ff" stroke-width="0.85"/>
<circle cx="506.48" cy="196.65" r="1.7" fill="none" stroke="#0000ff" stroke-width="0.85"/>
<circle cx="507.46" cy="196.64" r="1.7" fill="none" stroke="#0000ff" stroke-width="0.85"/>
<circle cx="507.63" cy="195.48" r="1.7" fill="none" stroke="#0000ff" stroke-width="0.85"/>
<circle cx="508.96" cy="195.49" r="1.7" fill="none" stroke="#0000ff" stroke-width="0.85"/>
<circle cx="508.79" cy="193.99" r="1.7" fill="none" stroke="#0000ff" stroke-width="0.85"/>
<circle cx="509.86" cy="193.84" r="1.7" fill="none" stroke="#0000ff" stroke-width="0.85"/>
<circle cx="510.58" cy="193.19" r="1.7" fill="none" stroke="#0000ff" stroke-width="0.85"/>
<circle cx="511.09" cy="192.48" r="1.7" fill="none" stroke="#0000ff" stroke-width="0.85"/>
<circle cx="512.16" cy="192.01" r="1.7" fill="none" stroke="#0000ff" stroke-width="0.85"/>
<circle cx="512.14" cy="191.31" r="1.7" fill="none" stroke="#0000ff" stroke-width="0.85"/>
<circle cx="513.63" cy="190.85" r="1.7" fill="none" stroke="#0000ff" stroke-width="0.85"/>
<circle cx="513.16" cy="189.56" r="1.7" fill="none" stroke="#0000ff" stroke-width="0.85"/>
<circle cx="513.63" cy="188.75" r="1.7" fill="none" stroke="#0000ff" stroke-width="0.85"/>
<circle cx="515.26" cy="188.58" r="1.7" fill="none" stroke="#0000ff" stroke-width="0.85"/>
<circle cx="515.94" cy="187.95" r="1.7" fill="none" stroke="#0000ff" stroke-width="0.85"/>
<circle cx="516.46" cy="187.16" r="1.7" fill="none" stroke="#0000ff" stroke-width="0.85"/>
<circle cx="515.99" cy="186.18" r="1.7" fill="none" stroke="#0000ff" stroke-width="0.85"/>
<circle cx="517.3" cy="185.96" r="1.7" fill="none" stroke="#0000ff" stroke-width="0.85"/>
<circle cx="518.12" cy="185.22" r="1.7" fill="none" stroke="#0000ff" stroke-width="0.85"/>
<circle cx="518.54" cy="184.42" r="1.7" fill="none" stroke="#0000ff" stroke-width="0.85"/>
<circle cx="518.83" cy="183.52" r="1.7" fill="none" stroke="#0000ff" stroke-width="0.85"/>
<circle cx="519.1" cy="182.85" r="1.7" fill="none" stroke="#0000ff" stroke-width="0.85"/>
<circle cx="520.06" cy="182.59" r="1.7" fill="none" stroke="#0000ff" stroke-width="0.85"/>
<circle cx="521.15" cy="181.72" r="1.7" fill="none" stroke="#0000ff" stroke-width="0.85"/>
<circle cx="521.33" cy="180.97" r="1.7" fill="none" stroke="#0000ff" stroke-width="0.85"/>
<circle cx="520.95" cy="179.76" r="1.7" fill="none" stroke="#0000ff" stroke-width="0.85"/>
<circle cx="521.75" cy="179.03" r="1.7" fill="none" stroke="#0000ff" stroke-width="0.85"/>
<circle cx="521.99" cy="178.45" r="1.7" fill="none" stroke="#0000ff" stroke-width="0.85"/>
<circle cx="522.73" cy="178.03" r="1.7" fill="none" stroke="#ff0000" stroke-width="0.85"/>
<circle cx="523.48" cy="177.24" r="1.7" fill="none" stroke="#0000ff" stroke-width="0.85"/>
<circle cx="522.9" cy="176.33" r="1.7" fill="none" stroke="#0000ff" stroke-width="0.85"/>
<circle cx="524.45" cy="175.71" r="1.7" fill="none" stroke="#0000ff" stroke-width="0.85"/>
<circle cx="524.68" cy="174.99" r="1.7" fill="none" stroke="#0000ff" stroke-width="0.85"/>
<circle cx="525.52" cy="174.65" r="1.7" fill="none" stroke="#0000ff" stroke-width="0.85"/>
<circle cx="526.04" cy="173.54" r="1.7" fill="none" stroke="#0000ff" stroke-width="0.85"/>
<circle cx="525.57" cy="172.53" r="1.7" fill="none" stroke="#0000ff" stroke-width="0.85"/>
<circle cx="526.2" cy="171.46" r="1.7" fill="none" stroke="#0000ff" stroke-width="0.85"/>
<circle cx="527.28" cy="171.3" r="1.7" fill="none" stroke="#ff0000" stroke-width="0.85"/>
<circle cx="527.22" cy="170.42" r="1.7" fill="none" stroke="#0000ff" stroke-width="0.85"/>
<circle cx="528.22" cy="169.8" r="1.7" fill="none" stroke="#0000ff" stroke-width="0.85"/>
<circle cx="527.86" cy="168.81" r="1.7" fill="none" stroke="#0000ff" stroke-width="0.85"/>
<circle cx="528.45" cy="167.45" r="1.7" fill="none" stroke="#0000ff" stroke-width="0.85"/>
<circle cx="529.41" cy="167.02" r="1.7" fill="none" stroke="#0000ff" stroke-width="0.85"/>
<circle cx="530.11" cy="166.82" r="1.7" fill="none" stroke="#0000ff" stroke-width="0.85"/>
<circle cx="529.87" cy="165.64" r="1.7" fill="none" stroke="#0000ff" stroke-width="0.85"/>
<circle cx="530.35" cy="164.63" r="1.7" fill="none" stroke="#0000ff" stroke-width="0.85"/>
<circle cx="531.44" cy="164.62" r="1.7" fill="none" stroke="#00ff00" stroke-width="0.85"/>
<circle cx="531.6" cy="163.18" r="1.7" fill="none" stroke="#0000ff" stroke-width="0.85"/>
<circle cx="532.42" cy="162.79" r="1.7" fill="none" stroke="#0000ff" stroke-width="0.85"/>
<circle cx="532.19" cy="161.61" r="1.7" fill="none" stroke="#0000ff" stroke-width="0.85"/>
<circle cx="533.1" cy="161.46" r="1.7" fill="none" stroke="#0000ff" stroke-width="0.85"/>
<circle cx="532.49" cy="160.1" r="1.7" fill="none" stroke="#0000ff" stroke-width="0.85"/>
<circle cx="534.15" cy="159.53" r="1.7" fill="none" stroke="#0000ff" stroke-width="0.85"/>
<circle cx="534.26" cy="158.83" r="1.7" fill="none" stroke="#0000ff" stroke-width="0.85"/>
<circle cx="534.74" cy="158.26" r="1.7" fill="none" stroke="#0000ff" stroke-width="0.85"/>
<circle cx="534.98" cy="157.25" r="1.7" fill="none" stroke="#0000ff" stroke-width="0.85"/>
<circle cx="534.87" cy="156.17" r="1.7" fill="none" stroke="#0000ff" stroke-width="0.85"/>
<circle cx="535.66" cy="155.56" r="1.7" fill="none" stroke="#0000ff" stroke-width="0.85"/>
<circle cx="535.93" cy="154.58" r="1.7" fill="none" stroke="#0000ff" stroke-width="0.85"/>
<circle cx="536.13" cy="154.06" r="1.7" fill="none" stroke="#0000ff" stroke-width="0.85"/>
<circle cx="536.51" cy="153.2" r="1.7" fill="none" stroke="#0000ff" stroke-width="0.85"/>
<circle cx="537.66" cy="152.55" r="1.7" fill="none" stroke="#0000ff" stroke-width="0.85"/>
<circle cx="537.39" cy="151.22" r="1.7" fill="none" stroke="#0000ff" stroke-width="0.85"/>
<circle cx="537.98" cy="150.64" r="1.7" fill="none" stroke="#0000ff" stroke-width="0.85"/>
<circle cx="538.14" cy="149.95" r="1.7" fill="none" stroke="#0000ff" stroke-width="0.85"/>
<circle cx="539.47" cy="149.71" r="1.7" fill="none" stroke="#0000ff" stroke-width="0.85"/>
<circle cx="539.39" cy="148.31" r="1.7" fill="none" stroke="#0000ff" stroke-width="0.85"/>
<circle cx="540.07" cy="147.92" r="1.7" fill="none" stroke="#0000ff" stroke-width="0.85"/>
<circle cx="540.14" cy="146.61" r="1.7" fill="none" stroke="#0000ff" stroke-width="0.85"/>
<circle cx="541.23" cy="146.26" r="1.7" fill="none" stroke="#0000ff" stroke-width="0.85"/>
<circle cx="541.58" cy="145.54" r="1.7" fill="none" stroke="#0000ff" stroke-width="0.85"/>
<circle cx="541.91" cy="144.39" r="1.7" fill="none" stroke="#0000ff" stroke-width="0.85"/>
<circle cx="542.93" cy="143.93" r="1.7" fill="none" stroke="#0000ff" stroke-width="0.85"/>
<circle cx="543.11" cy="142.7" r="1.7" fill="none" stroke="#0000ff" stroke-width="0.85"/>
<circle cx="543.02" cy="141.62" r="1.7" fill="none" stroke="#0000ff" stroke-width="0.85"/>
<circle cx="543.8" cy="141.13" r="1.7" fill="none" stroke="#0000ff" stroke-width="0.85"/>
<circle cx="545.06" cy="141.07" r="1.7" fill="none" stroke="#0000ff" stroke-width="0.85"/>
<circle cx="545.02" cy="140.01" r="1.7" fill="none" stroke="#0000ff" stroke-width="0.85"/>
<circle cx="546.16" cy="139.48" r="1.7" fill="none" stroke="#0000ff" stroke-width="0.85"/>
<circle cx="545.9" cy="138.34" r="1.7" fill="none" stroke="#0000ff" stroke-width="0.85"/>
<circle cx="547.15" cy="137.86" r="1.7" fill="none" stroke="#00ff00" stroke-width="0.85"/>
<circle cx="546.67" cy="136.67" r="1.7" fill="none" stroke="#0000ff" stroke-width="0.85"/>
<circle cx="547.5" cy="136.26" r="1.7" fill="none" stroke="#0000ff" stroke-width="0.85"/>
<circle cx="547.91" cy="135.01" r="1.7" fill="none" stroke="#0000ff" stroke-width="0.85"/>
<circle cx="548.43" cy="134.81" r="1.7" fill="none" stroke="#ff0000" stroke-width="0.85"/>
<circle cx="548.92" cy="133.67" r="1.7" fill="none" stroke="#0000ff" stroke-width="0.85"/>
<circle cx="549.71" cy="133.71" r="1.7" fill="none" stroke="#0000ff" stroke-width="0.85"/>
<circle cx="549.77" cy="132.61" r="1.7" fill="none" stroke="#00ff00" stroke-width="0.85"/>
<circle cx="550.17" cy="131.87" r="1.7" fill="none" stroke="#0000ff" stroke-width="0.85"/>
<circle cx="551.59" cy="131.92" r="1.7" fill="none" stroke="#0000ff" stroke-width="0.85"/>
<circle cx="551.56" cy="130.49" r="1.7" fill="none" stroke="#0000ff" stroke-width="0.85"/>
<circle cx="552.3" cy="130.41" r="1.7" fill="none" stroke="#0000ff" stroke-width="0.85"/>
<circle cx="552.54" cy="129.42" r="1.7" fill="none" stroke="#0000ff" stroke-width="0.85"/>
<circle cx="553.03" cy="128.59" r="1.7" fill="none" stroke="#0000ff" stroke-width="0.85"/>
<circle cx="554.54" cy="128.7" r="1.7" fill="none" stroke="#0000ff" stroke-width="0.85"/>
<circle cx="554.6" cy="127.31" r="1.7" fill="none" stroke="#0000ff" stroke-width="0.85"/>
<circle cx="555" cy="126.76" r="1.7" fill="none" stroke="#0000ff" stroke-width="0.85"/>
<circle cx="555.66" cy="126.24" r="1.7" fill="none" stroke="#0000ff" stroke-width="0.85"/>
<circle cx="557.12" cy="125.93" r="1.7" fill="none" stroke="#0000ff" stroke-width="0.85"/>
<circle cx="556.85" cy="124.9" r="1.7" fill="none" stroke="#0000ff" stroke-width="0.85"/>
<circle cx="557.69" cy="124.36" r="1.7" fill="none" stroke="#0000ff" stroke-width="0.85"/>
<circle cx="558.68" cy="124.39" r="1.7" fill="none" stroke="#0000ff" stroke-width="0.85"/>
<circle cx="559.55" cy="123.94" r="1.7" fill="none" stroke="#0000ff" stroke-width="0.85"/>
<circle cx="560.19" cy="122.96" r="1.7" fill="none" stroke="#0000ff" stroke-width="0.85"/>
<circle cx="560.47" cy="122.31" r="1.7" fill="none" stroke="#0000ff" stroke-width="0.85"/>
<circle cx="561.99" cy="122.33" r="1.7" fill="none" stroke="#0000ff" stroke-width="0.85"/>
<circle cx="562.07" cy="121.24" r="1.7" fill="none" stroke="#0000ff" stroke-width="0.85"/>
<circle cx="562.42" cy="120.38" r="1.7" fill="none" stroke="#00ff00" stroke-width="0.85"/>
<circle cx="563.12" cy="119.38" r="1.7" fill="none" stroke="#00ff00" stroke-width="0.85"/>
<circle cx="564.55" cy="119.35" r="1.7" fill="none" stroke="#00ff00" stroke-width="0.85"/>
<circle cx="564.66" cy="118.12" r="1.7" fill="none" stroke="#0000ff" stroke-width="0.85"/>
<circle cx="564.23" cy="117.04" r="1.7" fill="none" stroke="#00ff00" stroke-width="0.85"/>
<circle cx="564.85" cy="116.45" r="1.7" fill="none" stroke="#00ff00" stroke-width="0.85"/>
<circle cx="564.89" cy="115.15" r="1.7" fill="none" stroke="#00ff00" stroke-width="0.85"/>
<circle cx="565.2" cy="114.14" r="1.7" fill="none" stroke="#00ff00" stroke-width="0.85"/>
<circle cx="565.59" cy="113.29" r="1.7" fill="none" stroke="#00ff00" stroke-width="0.85"/>
<circle cx="567.35" cy="112.85" r="1.7" fill="none" stroke="#00ff00" stroke-width="0.85"/>
<circle cx="567.2" cy="111.96" r="1.7" fill="none" stroke="#00ff00" stroke-width="0.85"/>
<circle cx="566.68" cy="110.97" r="1.7" fill="none" stroke="#00ff00" stroke-width="0.85"/>
<circle cx="567.39" cy="110.35" r="1.7" fill="none" stroke="#0000ff" stroke-width="0.85"/>
<circle cx="567.44" cy="109.18" r="1.7" fill="none" stroke="#00ff00" stroke-width="0.85"/>
<circle cx="567.18" cy="108.39" r="1.7" fill="none" stroke="#00ff00" stroke-width="0.85"/>
<circle cx="567.86" cy="107.45" r="1.7" fill="none" stroke="#00ff00" stroke-width="0.85"/>
<circle cx="567.81" cy="106.26" r="1.7" fill="none" stroke="#00ff00" stroke-width="0.85"/>
<circle cx="568.28" cy="105.35" r="1.7" fill="none" stroke="#00ff00" stroke-width="0.85"/>
<circle cx="568.92" cy="104.77" r="1.7" fill="none" stroke="#00ff00" stroke-width="0.85"/>
<circle cx="569.27" cy="103.65" r="1.7" fill="none" stroke="#00ff00" stroke-width="0.85"/>
<circle cx="571.01" cy="103.4" r="1.7" fill="none" stroke="#00ff00" stroke-width="0.85"/>
<circle cx="571.82" cy="102.86" r="1.7" fill="none" stroke="#0000ff" stroke-width="0.85"/>
<circle cx="572.24" cy="102.22" r="1.7" fill="none" stroke="#00ff00" stroke-width="0.85"/>
<circle cx="572.66" cy="101.19" r="1.7" fill="none" stroke="#00ff00" stroke-width="0.85"/>
<circle cx="572.9" cy="100.04" r="1.7" fill="none" stroke="#00ff00" stroke-width="0.85"/>
<circle cx="573.59" cy="98.72" r="1.7" fill="none" stroke="#00ff00" stroke-width="0.85"/>
<circle cx="574.95" cy="98.91" r="1.7" fill="none" stroke="#00ff00" stroke-width="0.85"/>
<circle cx="575.71" cy="98.05" r="1.7" fill="none" stroke="#0000ff" stroke-width="0.85"/>
<circle cx="576.98" cy="98.89" r="1.7" fill="none" stroke="#00ff00" stroke-width="0.85"/>
<circle cx="577.61" cy="98.19" r="1.7" fill="none" stroke="#00ff00" stroke-width="0.85"/>
<circle cx="579.25" cy="98.17" r="1.7" fill="none" stroke="#00ff00" stroke-width="0.85"/>
<circle cx="579.68" cy="96.69" r="1.7" fill="none" stroke="#00ff00" stroke-width="0.85"/>
<circle cx="581.01" cy="97.47" r="1.7" fill="none" stroke="#00ff00" stroke-width="0.85"/>
<circle cx="582.2" cy="96.08" r="1.7" fill="none" stroke="#00ff00" stroke-width="0.85"/>
<circle cx="582.29" cy="96.79" r="1.7" fill="none" stroke="#00ff00" stroke-width="0.85"/>
<circle cx="582.15" cy="98.31" r="1.7" fill="none" stroke="#0000ff" stroke-width="0.85"/>
<circle cx="582.94" cy="98.66" r="1.7" fill="none" stroke="#00ff00" stroke-width="0.85"/>
<circle cx="583.39" cy="99.47" r="1.7" fill="none" stroke="#00ff00" stroke-width="0.85"/>
<circle cx="584.84" cy="99.81" r="1.7" fill="none" stroke="#00ff00" stroke-width="0.85"/>
<circle cx="585.04" cy="100.64" r="1.7" fill="none" stroke="#00ff00" stroke-width="0.85"/>
<circle cx="585.2" cy="101.8" r="1.7" fill="none" stroke="#00ff00" stroke-width="0.85"/>
<circle cx="586.47" cy="101.17" r="1.7" fill="none" stroke="#00ff00" stroke-width="0.85"/>
<circle cx="587.38" cy="102.47" r="1.7" fill="none" stroke="#00ff00" stroke-width="0.85"/>
<circle cx="588.69" cy="102.08" r="1.7" fill="none" stroke="#0000ff" stroke-width="0.85"/>
<circle cx="589.73" cy="102.3" r="1.7" fill="none" stroke="#00ff00" stroke-width="0.85"/>
<circle cx="590.19" cy="103.56" r="1.7" fill="none" stroke="#00ff00" stroke-width="0.85"/>
<circle cx="591.33" cy="102.92" r="1.7" fill="none" stroke="#00ff00" stroke-width="0.85"/>
<circle cx="592.23" cy="103.88" r="1.7" fill="none" stroke="#00ff00" stroke-width="0.85"/>
<circle cx="592.96" cy="104.16" r="1.7" fill="none" stroke="#00ff00" stroke-width="0.85"/>
<circle cx="594.26" cy="103.76" r="1.7" fill="none" stroke="#00ff00" stroke-width="0.85"/>
<circle cx="595.03" cy="104.41" r="1.7" fill="none" stroke="#00ff00" stroke-width="0.85"/>
<circle cx="595.67" cy="103.8" r="1.7" fill="none" stroke="#0000ff" stroke-width="0.85"/>
<circle cx="596.13" cy="104.61" r="1.7" fill="none" stroke="#00ff00" stroke-width="0.85"/>
<circle cx="597.46" cy="104.81" r="1.7" fill="none" stroke="#00ff00" stroke-width="0.85"/>
<circle cx="597.9" cy="105.37" r="1.7" fill="none" stroke="#00ff00" stroke-width="0.85"/>
<circle cx="599.34" cy="105.66" r="1.7" fill="none" stroke="#00ff00" stroke-width="0.85"/>
<circle cx="599.65" cy="106.97" r="1.7" fill="none" stroke="#00ff00" stroke-width="0.85"/>
<circle cx="607.32" cy="110.03" r="1.7" fill="none" stroke="#00ff00" stroke-width="0.85"/>
<circle cx="607.75" cy="110.57" r="1.7" fill="none" stroke="#00ff00" stroke-width="0.85"/>
<circle cx="608.41" cy="111.41" r="1.7" fill="none" stroke="#00ff00" stroke-width="0.85"/>
<circle cx="609.73" cy="110.87" r="1.7" fill="none" stroke="#00ff00" stroke-width="0.85"/>
<circle cx="610.65" cy="111.48" r="1.7" fill="none" stroke="#00ff00" stroke-width="0.85"/>
<circle cx="611.18" cy="111.55" r="1.7" fill="none" stroke="#00ff00" stroke-width="0.85"/>
<circle cx="611.9" cy="112.21" r="1.7" fill="none" stroke="#00ff00" stroke-width="0.85"/>
<circle cx="612.97" cy="112.81" r="1.7" fill="none" stroke="#00ff00" stroke-width="0.85"/>
<circle cx="613.93" cy="113.04" r="1.7" fill="none" stroke="#00ff00" stroke-width="0.85"/>
<circle cx="614.93" cy="111.6" r="1.7" fill="none" stroke="#00ff00" stroke-width="0.85"/>
<circle cx="615.37" cy="113.27" r="1.7" fill="none" stroke="#00ff00" stroke-width="0.85"/>
<circle cx="616.92" cy="112.75" r="1.7" fill="none" stroke="#00ff00" stroke-width="0.85"/>
<circle cx="617.5" cy="113.77" r="1.7" fill="none" stroke="#00ff00" stroke-width="0.85"/>
<circle cx="618.36" cy="114.62" r="1.7" fill="none" stroke="#00ff00" stroke-width="0.85"/>
<circle cx="619.31" cy="113.67" r="1.7" fill="none" stroke="#00ff00" stroke-width="0.85"/>
<circle cx="620.84" cy="113.75" r="1.7" fill="none" stroke="#00ff00" stroke-width="0.85"/>
<circle cx="621.14" cy="114.79" r="1.7" fill="none" stroke="#00ff00" stroke-width="0.85"/>
<circle cx="622.35" cy="115.39" r="1.7" fill="none" stroke="#00ff00" stroke-width="0.85"/>
<circle cx="623.49" cy="114.86" r="1.7" fill="none" stroke="#0000ff" stroke-width="0.85"/>
<circle cx="623.67" cy="115.71" r="1.7" fill="none" stroke="#00ff00" stroke-width="0.85"/>
<circle cx="624.65" cy="116.75" r="1.7" fill="none" stroke="#00ff00" stroke-width="0.85"/>
<circle cx="625.94" cy="115.48" r="1.7" fill="none" stroke="#00ff00" stroke-width="0.85"/>
<circle cx="626.82" cy="115.94" r="1.7" fill="none" stroke="#0000ff" stroke-width="0.85"/>
<circle cx="627.36" cy="117.38" r="1.7" fill="none" stroke="#00ff00" stroke-width="0.85"/>
<circle cx="628.41" cy="116.86" r="1.7" fill="none" stroke="#00ff00" stroke-width="0.85"/>
<circle cx="628.93" cy="117.83" r="1.7" fill="none" stroke="#0000ff" stroke-width="0.85"/>
<circle cx="630.19" cy="119" r="1.7" fill="none" stroke="#00ff00" stroke-width="0.85"/>
<circle cx="630.71" cy="119.19" r="1.7" fill="none" stroke="#00ff00" stroke-width="0.85"/>
<circle cx="631.86" cy="118.08" r="1.7" fill="none" stroke="#00ff00" stroke-width="0.85"/>
<circle cx="632.47" cy="118.57" r="1.7" fill="none" stroke="#00ff00" stroke-width="0.85"/>
<circle cx="632.96" cy="116.83" r="1.7" fill="none" stroke="#0000ff" stroke-width="0.85"/>
<circle cx="493.86" cy="161.8" r="1.7" fill="none" stroke="#ff0000" stroke-width="0.85"/>
<circle cx="493.83" cy="162.67" r="1.7" fill="none" stroke="#ff0000" stroke-width="0.85"/>
<circle cx="495.23" cy="163.24" r="1.7" fill="none" stroke="#ff0000" stroke-width="0.85"/>
<circle cx="494.33" cy="163.82" r="1.7" fill="none" stroke="#ff0000" stroke-width="0.85"/>
<circle cx="494.56" cy="164.08" r="1.7" fill="none" stroke="#ff0000" stroke-width="0.85"/>
<circle cx="494.84" cy="164.82" r="1.7" fill="none" stroke="#ff0000" stroke-width="0.85"/>
<circle cx="494.04" cy="165.51" r="1.7" fill="none" stroke="#ff0000" stroke-width="0.85"/>
<circle cx="494.9" cy="165.75" r="1.7" fill="none" stroke="#ff0000" stroke-width="0.85"/>
<circle cx="494.1" cy="166.45" r="1.7" fill="none" stroke="#ff0000" stroke-width="0.85"/>
<circle cx="494.29" cy="166.81" r="1.7" fill="none" stroke="#ff0000" stroke-width="0.85"/>
<circle cx="493.02" cy="166.9" r="1.7" fill="none" stroke="#ff0000" stroke-width="0.85"/>
<circle cx="494.73" cy="167.76" r="1.7" fill="none" stroke="#ff0000" stroke-width="0.85"/>
<circle cx="493.51" cy="168.13" r="1.7" fill="none" stroke="#ff0000" stroke-width="0.85"/>
<circle cx="494.01" cy="168.98" r="1.7" fill="none" stroke="#ff0000" stroke-width="0.85"/>
<circle cx="493.71" cy="169.26" r="1.7" fill="none" stroke="#ff0000" stroke-width="0.85"/>
<circle cx="492.8" cy="169.74" r="1.7" fill="none" stroke="#ff0000" stroke-width="0.85"/>
<circle cx="494.44" cy="170.68" r="1.7" fill="none" stroke="#ff0000" stroke-width="0.85"/>
<circle cx="492.67" cy="170.72" r="1.7" fill="none" stroke="#ff0000" stroke-width="0.85"/>
<circle cx="493.43" cy="171.19" r="1.7" fill="none" stroke="#ff0000" stroke-width="0.85"/>
</g>
</g>
<g fill="#000">
<rect x="81.2" y="14.3" width="89.65" height="6.4" fill="#ff0000"/>
<line x1="126.33" y1="10.2" x2="126.33" y2="14.3" stroke="#222" stroke-width="0.8"/>
<text x="126.03" y="5" font-size="6.9" text-anchor="middle">AD</text>
<rect x="170.85" y="14.3" width="89.65" height="6.4" fill="#00ff00"/>
<line x1="215.98" y1="10.2" x2="215.98" y2="14.3" stroke="#222" stroke-width="0.8"/>
<text x="215.68" y="5" font-size="6.9" text-anchor="middle">CN</text>
<rect x="81.2" y="14.3" width="179.3" height="6.4" fill="none" stroke="#222" stroke-width="0.7"/>
<rect x="419.4" y="14.3" width="59.77" height="6.4" fill="#ff0000"/>
<line x1="449.58" y1="10.2" x2="449.58" y2="14.3" stroke="#222" stroke-width="0.8"/>
<text x="449.28" y="5" font-size="6.9" text-anchor="middle">AD</text>
<rect x="479.17" y="14.3" width="59.77" height="6.4" fill="#00ff00"/>
<line x1="509.35" y1="10.2" x2="509.35" y2="14.3" stroke="#222" stroke-width="0.8"/>
<text x="509.05" y="5" font-size="6.9" text-anchor="middle">CN</text>
<rect x="538.93" y="14.3" width="59.77" height="6.4" fill="#0000ff"/>
<line x1="569.12" y1="10.2" x2="569.12" y2="14.3" stroke="#222" stroke-width="0.8"/>
<text x="568.82" y="5" font-size="6.9" text-anchor="middle">OTHER</text>
<rect x="419.4" y="14.3" width="179.3" height="6.4" fill="none" stroke="#222" stroke-width="0.7"/>
<text x="-0.2" y="39.2" font-size="34" font-weight="bold">A</text>
<text x="351.3" y="39" font-size="33" font-weight="bold">B</text>
<text x="0.2" y="364" font-size="33" font-weight="bold">C</text>
<text x="351.5" y="364" font-size="33" font-weight="bold">D</text>
<rect x="296.6" y="253.1" width="93.8" height="36" fill="none" stroke="#333" stroke-width="1"/>
<text x="343.5" y="279" font-size="22.6" font-weight="bold" text-anchor="middle">DLPFC</text>
<polygon points="176.35,481 191.61,485.96 201.04,498.94 201.04,514.98 191.61,527.96 176.35,532.92 161.09,527.96 151.66,514.98 151.66,498.94 161.09,485.96" fill="none" stroke="#c9c9c9" stroke-width="0.95"/>
<polygon points="176.35,455.04 206.87,464.96 225.73,490.92 225.73,523 206.87,548.96 176.35,558.88 145.83,548.96 126.97,523 126.97,490.92 145.83,464.96" fill="none" stroke="#c9c9c9" stroke-width="0.95"/>
<polygon points="176.35,429.08 222.13,443.95 250.42,482.89 250.42,531.03 222.13,569.97 176.35,584.84 130.57,569.97 102.28,531.03 102.28,482.89 130.57,443.95" fill="none" stroke="#c9c9c9" stroke-width="0.95"/>
<polygon points="176.35,403.12 237.39,422.95 275.11,474.87 275.11,539.05 237.39,590.97 176.35,610.8 115.31,590.97 77.59,539.05 77.59,474.87 115.31,422.95" fill="none" stroke="#c9c9c9" stroke-width="0.95"/>
<polygon points="176.35,377.16 252.64,401.95 299.8,466.85 299.8,547.07 252.64,611.97 176.35,636.76 100.06,611.97 52.9,547.07 52.9,466.85 100.06,401.95" fill="none" stroke="#c9c9c9" stroke-width="0.95"/>
<line x1="176.35" y1="506.96" x2="176.35" y2="377.16" stroke="#c9c9c9" stroke-width="0.95"/>
<line x1="176.35" y1="506.96" x2="252.64" y2="401.95" stroke="#c9c9c9" stroke-width="0.95"/>
<line x1="176.35" y1="506.96" x2="299.8" y2="466.85" stroke="#c9c9c9" stroke-width="0.95"/>
<line x1="176.35" y1="506.96" x2="299.8" y2="547.07" stroke="#c9c9c9" stroke-width="0.95"/>
<line x1="176.35" y1="506.96" x2="252.64" y2="611.97" stroke="#c9c9c9" stroke-width="0.95"/>
<line x1="176.35" y1="506.96" x2="176.35" y2="636.76" stroke="#c9c9c9" stroke-width="0.95"/>
<line x1="176.35" y1="506.96" x2="100.06" y2="611.97" stroke="#c9c9c9" stroke-width="0.95"/>
<line x1="176.35" y1="506.96" x2="52.9" y2="547.07" stroke="#c9c9c9" stroke-width="0.95"/>
<line x1="176.35" y1="506.96" x2="52.9" y2="466.85" stroke="#c9c9c9" stroke-width="0.95"/>
<line x1="176.35" y1="506.96" x2="100.06" y2="401.95" stroke="#c9c9c9" stroke-width="0.95"/>
<text x="175.15" y="506.96" font-size="10" fill="#bdbdbd" text-anchor="end" dominant-baseline="central">0</text>
<text x="175.15" y="481" font-size="10" fill="#bdbdbd" text-anchor="end" dominant-baseline="central">10</text>
<text x="175.15" y="455.04" font-size="10" fill="#bdbdbd" text-anchor="end" dominant-baseline="central">20</text>
<text x="175.15" y="429.08" font-size="10" fill="#bdbdbd" text-anchor="end" dominant-baseline="central">30</text>
<text x="175.15" y="403.12" font-size="10" fill="#bdbdbd" text-anchor="end" dominant-baseline="central">40</text>
<text x="175.15" y="377.16" font-size="10" fill="#bdbdbd" text-anchor="end" dominant-baseline="central">50</text>
<polygon points="176.35,427.26 251.58,403.42 266.96,477.52 255.85,532.79 231.59,582.99 176.35,541.23 139.12,558.21 76.11,539.53 84.26,477.04 127.06,439.12" fill="#440154" fill-opacity="0.3" stroke="#440154" stroke-width="3.1" stroke-linejoin="round"/>
<circle cx="176.35" cy="427.26" r="2.5" fill="#440154"/>
<circle cx="251.58" cy="403.42" r="2.5" fill="#440154"/>
<circle cx="266.96" cy="477.52" r="2.5" fill="#440154"/>
<circle cx="255.85" cy="532.79" r="2.5" fill="#440154"/>
<circle cx="231.59" cy="582.99" r="2.5" fill="#440154"/>
<circle cx="176.35" cy="541.23" r="2.5" fill="#440154"/>
<circle cx="139.12" cy="558.21" r="2.5" fill="#440154"/>
<circle cx="76.11" cy="539.53" r="2.5" fill="#440154"/>
<circle cx="84.26" cy="477.04" r="2.5" fill="#440154"/>
<circle cx="127.06" cy="439.12" r="2.5" fill="#440154"/>
<polygon points="176.35,470.62 212.21,457.61 215.85,494.12 218.08,520.52 207.63,550.01 176.35,529.03 148.27,545.6 121.29,524.85 127.96,491.24 145.68,464.75" fill="#21908C" fill-opacity="0.3" stroke="#21908C" stroke-width="3.1" stroke-linejoin="round"/>
<circle cx="176.35" cy="470.62" r="2.5" fill="#21908C"/>
<circle cx="212.21" cy="457.61" r="2.5" fill="#21908C"/>
<circle cx="215.85" cy="494.12" r="2.5" fill="#21908C"/>
<circle cx="218.08" cy="520.52" r="2.5" fill="#21908C"/>
<circle cx="207.63" cy="550.01" r="2.5" fill="#21908C"/>
<circle cx="176.35" cy="529.03" r="2.5" fill="#21908C"/>
<circle cx="148.27" cy="545.6" r="2.5" fill="#21908C"/>
<circle cx="121.29" cy="524.85" r="2.5" fill="#21908C"/>
<circle cx="127.96" cy="491.24" r="2.5" fill="#21908C"/>
<circle cx="145.68" cy="464.75" r="2.5" fill="#21908C"/>
<polygon points="176.35,471.65 214.65,454.24 209.19,496.29 214.12,519.23 196.64,534.89 176.35,522.02 158.95,530.9 137.09,519.72 143.27,496.21 158.04,481.76" fill="#FDE725" fill-opacity="0.3" stroke="#FDE725" stroke-width="3.1" stroke-linejoin="round"/>
<circle cx="176.35" cy="471.65" r="2.5" fill="#FDE725"/>
<circle cx="214.65" cy="454.24" r="2.5" fill="#FDE725"/>
<circle cx="209.19" cy="496.29" r="2.5" fill="#FDE725"/>
<circle cx="214.12" cy="519.23" r="2.5" fill="#FDE725"/>
<circle cx="196.64" cy="534.89" r="2.5" fill="#FDE725"/>
<circle cx="176.35" cy="522.02" r="2.5" fill="#FDE725"/>
<circle cx="158.95" cy="530.9" r="2.5" fill="#FDE725"/>
<circle cx="137.09" cy="519.72" r="2.5" fill="#FDE725"/>
<circle cx="143.27" cy="496.21" r="2.5" fill="#FDE725"/>
<circle cx="158.04" cy="481.76" r="2.5" fill="#FDE725"/>
<text x="176.35" y="350.96" font-size="9" text-anchor="middle" dominant-baseline="central">braaksc</text>
<text x="267.75" y="380.66" font-size="9" text-anchor="middle" dominant-baseline="central">cogn_global</text>
<text x="324.24" y="458.41" font-size="9" text-anchor="middle" dominant-baseline="central">tangles</text>
<text x="324.24" y="554.51" font-size="9" text-anchor="middle" dominant-baseline="central">nft</text>
<text x="267.75" y="632.26" font-size="9" text-anchor="middle" dominant-baseline="central">plaq_n</text>
<text x="176.35" y="661.96" font-size="9" text-anchor="middle" dominant-baseline="central">plaq_d</text>
<text x="84.95" y="632.26" font-size="9" text-anchor="middle" dominant-baseline="central">amyloid</text>
<text x="28.46" y="554.51" font-size="9" text-anchor="middle" dominant-baseline="central">gpath</text>
<text x="28.46" y="458.41" font-size="9" text-anchor="middle" dominant-baseline="central">niareagansc</text>
<text x="84.95" y="380.66" font-size="9" text-anchor="middle" dominant-baseline="central">ceradsc</text>
<polygon points="522.4,481 537.66,485.96 547.09,498.94 547.09,514.98 537.66,527.96 522.4,532.92 507.14,527.96 497.71,514.98 497.71,498.94 507.14,485.96" fill="none" stroke="#c9c9c9" stroke-width="0.95"/>
<polygon points="522.4,455.04 552.92,464.96 571.78,490.92 571.78,523 552.92,548.96 522.4,558.88 491.88,548.96 473.02,523 473.02,490.92 491.88,464.96" fill="none" stroke="#c9c9c9" stroke-width="0.95"/>
<polygon points="522.4,429.08 568.18,443.95 596.47,482.89 596.47,531.03 568.18,569.97 522.4,584.84 476.62,569.97 448.33,531.03 448.33,482.89 476.62,443.95" fill="none" stroke="#c9c9c9" stroke-width="0.95"/>
<polygon points="522.4,403.12 583.44,422.95 621.16,474.87 621.16,539.05 583.44,590.97 522.4,610.8 461.36,590.97 423.64,539.05 423.64,474.87 461.36,422.95" fill="none" stroke="#c9c9c9" stroke-width="0.95"/>
<polygon points="522.4,377.16 598.69,401.95 645.85,466.85 645.85,547.07 598.69,611.97 522.4,636.76 446.11,611.97 398.95,547.07 398.95,466.85 446.11,401.95" fill="none" stroke="#c9c9c9" stroke-width="0.95"/>
<line x1="522.4" y1="506.96" x2="522.4" y2="377.16" stroke="#c9c9c9" stroke-width="0.95"/>
<line x1="522.4" y1="506.96" x2="598.69" y2="401.95" stroke="#c9c9c9" stroke-width="0.95"/>
<line x1="522.4" y1="506.96" x2="645.85" y2="466.85" stroke="#c9c9c9" stroke-width="0.95"/>
<line x1="522.4" y1="506.96" x2="645.85" y2="547.07" stroke="#c9c9c9" stroke-width="0.95"/>
<line x1="522.4" y1="506.96" x2="598.69" y2="611.97" stroke="#c9c9c9" stroke-width="0.95"/>
<line x1="522.4" y1="506.96" x2="522.4" y2="636.76" stroke="#c9c9c9" stroke-width="0.95"/>
<line x1="522.4" y1="506.96" x2="446.11" y2="611.97" stroke="#c9c9c9" stroke-width="0.95"/>
<line x1="522.4" y1="506.96" x2="398.95" y2="547.07" stroke="#c9c9c9" stroke-width="0.95"/>
<line x1="522.4" y1="506.96" x2="398.95" y2="466.85" stroke="#c9c9c9" stroke-width="0.95"/>
<line x1="522.4" y1="506.96" x2="446.11" y2="401.95" stroke="#c9c9c9" stroke-width="0.95"/>
<text x="521.2" y="506.96" font-size="10" fill="#bdbdbd" text-anchor="end" dominant-baseline="central">0</text>
<text x="521.2" y="481" font-size="10" fill="#bdbdbd" text-anchor="end" dominant-baseline="central">0.1</text>
<text x="521.2" y="455.04" font-size="10" fill="#bdbdbd" text-anchor="end" dominant-baseline="central">0.2</text>
<text x="521.2" y="429.08" font-size="10" fill="#bdbdbd" text-anchor="end" dominant-baseline="central">0.3</text>
<text x="521.2" y="403.12" font-size="10" fill="#bdbdbd" text-anchor="end" dominant-baseline="central">0.4</text>
<text x="521.2" y="377.16" font-size="10" fill="#bdbdbd" text-anchor="end" dominant-baseline="central">0.5</text>
<polygon points="522.4,414.02 595.95,405.73 613.5,477.36 610.05,535.44 582.52,589.71 522.4,552.65 472.81,575.22 418.46,540.73 426.85,475.91 463.35,425.68" fill="#440154" fill-opacity="0.3" stroke="#440154" stroke-width="3.1" stroke-linejoin="round"/>
<circle cx="522.4" cy="414.02" r="2.5" fill="#440154"/>
<circle cx="595.95" cy="405.73" r="2.5" fill="#440154"/>
<circle cx="613.5" cy="477.36" r="2.5" fill="#440154"/>
<circle cx="610.05" cy="535.44" r="2.5" fill="#440154"/>
<circle cx="582.52" cy="589.71" r="2.5" fill="#440154"/>
<circle cx="522.4" cy="552.65" r="2.5" fill="#440154"/>
<circle cx="472.81" cy="575.22" r="2.5" fill="#440154"/>
<circle cx="418.46" cy="540.73" r="2.5" fill="#440154"/>
<circle cx="426.85" cy="475.91" r="2.5" fill="#440154"/>
<circle cx="463.35" cy="425.68" r="2.5" fill="#440154"/>
<polygon points="522.4,423.11 585.11,420.64 601.9,481.13 603.13,533.19 577.64,582.99 522.4,563.03 471.44,577.11 422.16,539.53 433.76,478.16 463.04,425.26" fill="#21908C" fill-opacity="0.3" stroke="#21908C" stroke-width="3.1" stroke-linejoin="round"/>
<circle cx="522.4" cy="423.11" r="2.5" fill="#21908C"/>
<circle cx="585.11" cy="420.64" r="2.5" fill="#21908C"/>
<circle cx="601.9" cy="481.13" r="2.5" fill="#21908C"/>
<circle cx="603.13" cy="533.19" r="2.5" fill="#21908C"/>
<circle cx="577.64" cy="582.99" r="2.5" fill="#21908C"/>
<circle cx="522.4" cy="563.03" r="2.5" fill="#21908C"/>
<circle cx="471.44" cy="577.11" r="2.5" fill="#21908C"/>
<circle cx="422.16" cy="539.53" r="2.5" fill="#21908C"/>
<circle cx="433.76" cy="478.16" r="2.5" fill="#21908C"/>
<circle cx="463.04" cy="425.26" r="2.5" fill="#21908C"/>
<polygon points="522.4,415.84 591.83,411.4 598.69,482.17 594.99,530.54 570.16,572.7 522.4,552.39 473.42,574.38 435.25,535.28 440.92,480.49 473.11,439.12" fill="#FDE725" fill-opacity="0.3" stroke="#FDE725" stroke-width="3.1" stroke-linejoin="round"/>
<circle cx="522.4" cy="415.84" r="2.5" fill="#FDE725"/>
<circle cx="591.83" cy="411.4" r="2.5" fill="#FDE725"/>
<circle cx="598.69" cy="482.17" r="2.5" fill="#FDE725"/>
<circle cx="594.99" cy="530.54" r="2.5" fill="#FDE725"/>
<circle cx="570.16" cy="572.7" r="2.5" fill="#FDE725"/>
<circle cx="522.4" cy="552.39" r="2.5" fill="#FDE725"/>
<circle cx="473.42" cy="574.38" r="2.5" fill="#FDE725"/>
<circle cx="435.25" cy="535.28" r="2.5" fill="#FDE725"/>
<circle cx="440.92" cy="480.49" r="2.5" fill="#FDE725"/>
<circle cx="473.11" cy="439.12" r="2.5" fill="#FDE725"/>
<text x="522.4" y="350.96" font-size="9" text-anchor="middle" dominant-baseline="central">braaksc</text>
<text x="613.8" y="380.66" font-size="9" text-anchor="middle" dominant-baseline="central">cogn_global</text>
<text x="670.29" y="458.41" font-size="9" text-anchor="middle" dominant-baseline="central">tangles</text>
<text x="670.29" y="554.51" font-size="9" text-anchor="middle" dominant-baseline="central">nft</text>
<text x="613.8" y="632.26" font-size="9" text-anchor="middle" dominant-baseline="central">plaq_n</text>
<text x="522.4" y="661.96" font-size="9" text-anchor="middle" dominant-baseline="central">plaq_d</text>
<text x="431" y="632.26" font-size="9" text-anchor="middle" dominant-baseline="central">amyloid</text>
<text x="374.51" y="554.51" font-size="9" text-anchor="middle" dominant-baseline="central">gpath</text>
<text x="374.51" y="458.41" font-size="9" text-anchor="middle" dominant-baseline="central">niareagansc</text>
<text x="431" y="380.66" font-size="9" text-anchor="middle" dominant-baseline="central">ceradsc</text>
<circle cx="2.9" cy="596.9" r="3" fill="#440154"/>
<text x="11.9" y="597.1" font-size="10.2" dominant-baseline="central">DLPFC</text>
<circle cx="2.9" cy="608.8" r="3" fill="#21908C"/>
<text x="11.9" y="609" font-size="10.2" dominant-baseline="central">PCC</text>
<circle cx="2.9" cy="620.7" r="3" fill="#FDE725"/>
<text x="11.9" y="620.9" font-size="10.2" dominant-baseline="central">HCN</text>
<circle cx="348.95" cy="596.9" r="3" fill="#440154"/>
<text x="357.95" y="597.1" font-size="10.2" dominant-baseline="central">DLPFC</text>
<circle cx="348.95" cy="608.8" r="3" fill="#21908C"/>
<text x="357.95" y="609" font-size="10.2" dominant-baseline="central">PCC</text>
<circle cx="348.95" cy="620.7" r="3" fill="#FDE725"/>
<text x="357.95" y="620.9" font-size="10.2" dominant-baseline="central">HCN</text>
<rect x="202.5" y="645.5" width="73.8" height="36" fill="#fff" stroke="#333" stroke-width="1"/>
<text x="239.4" y="671.1" font-size="22.4" font-weight="bold" text-anchor="middle">-logP</text>
<rect x="553.5" y="645.5" width="42" height="36" fill="#fff" stroke="#333" stroke-width="1"/>
<text x="562" y="671.1" font-size="22" font-weight="bold">R<tspan font-size="13" dx="0.8" dy="-7.5">2</tspan></text>
</g>
</svg>
</body></html>
